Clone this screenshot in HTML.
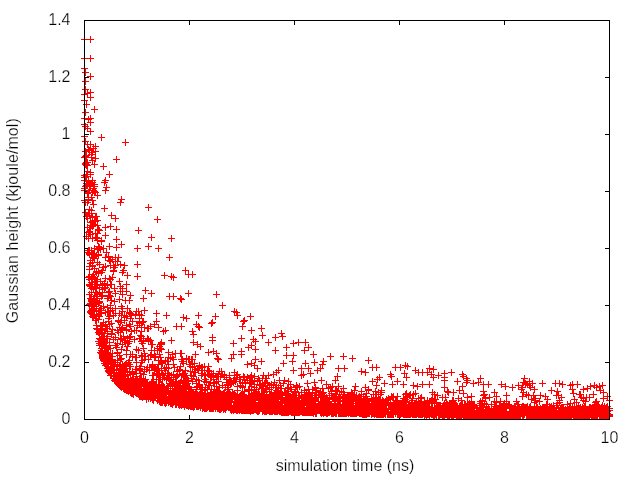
<!DOCTYPE html>
<html><head><meta charset="utf-8"><style>
html,body{margin:0;padding:0;background:#fff;width:640px;height:480px;overflow:hidden}
svg{display:block}
text{font-family:"Liberation Sans",sans-serif;font-size:16px;fill:#000;stroke:#fff;stroke-width:0.25px}
svg{will-change:transform}
</style></head><body>
<svg width="640" height="480" viewBox="0 0 640 480">
<rect width="640" height="480" fill="#fff"/>
<path d="M85 419.5h4M605 419.5h4M85 362.5h4M605 362.5h4M85 305.5h4M605 305.5h4M85 248.5h4M605 248.5h4M85 191.5h4M605 191.5h4M85 134.5h4M605 134.5h4M85 77.5h4M605 77.5h4M85 20.5h4M605 20.5h4M84.5 21v4M84.5 415v4M189.5 21v4M189.5 415v4M294.5 21v4M294.5 415v4M399.5 21v4M399.5 415v4M504.5 21v4M504.5 415v4M609.5 21v4M609.5 415v4" fill="none" stroke="#000" stroke-width="1" shape-rendering="crispEdges"/>
<path d="M81 39.5h7M84.5 36v7M81 58.5h7M84.5 55v7M81 68.5h7M84.5 65v7M81 94.5h7M84.5 91v7M81 100.5h7M84.5 97v7M81 118.5h7M84.5 115v7M81 124.5h7M84.5 121v7M81 136.5h7M84.5 133v7M81 157.5h7M84.5 154v7M81 175.5h7M84.5 172v7M81 177.5h7M84.5 174v7M81 180.5h7M84.5 177v7M81 188.5h7M84.5 185v7M81 190.5h7M84.5 187v7M81 200.5h7M84.5 197v7M82 72.5h7M85.5 69v7M82 81.5h7M85.5 78v7M82 89.5h7M85.5 86v7M82 112.5h7M85.5 109v7M82 126.5h7M85.5 123v7M82 141.5h7M85.5 138v7M82 151.5h7M85.5 148v7M82 156.5h7M85.5 153v7M82 157.5h7M85.5 154v7M82 163.5h7M85.5 160v7M82 164.5h7M85.5 161v7M82 177.5h7M85.5 174v7M82 186.5h7M85.5 183v7M82 202.5h7M85.5 199v7M82 212.5h7M85.5 209v7M83 104.5h7M86.5 101v7M83 155.5h7M86.5 152v7M83 162.5h7M86.5 159v7M83 164.5h7M86.5 161v7M83 165.5h7M86.5 162v7M83 174.5h7M86.5 171v7M83 176.5h7M86.5 173v7M83 183.5h7M86.5 180v7M83 185.5h7M86.5 182v7M83 216.5h7M86.5 213v7M83 236.5h7M86.5 233v7M84 93.5h7M87.5 90v7M84 128.5h7M87.5 125v7M84 144.5h7M87.5 141v7M84 162.5h7M87.5 159v7M84 165.5h7M87.5 162v7M84 171.5h7M87.5 168v7M84 184.5h7M87.5 181v7M84 193.5h7M87.5 190v7M84 202.5h7M87.5 199v7M84 216.5h7M87.5 213v7M84 218.5h7M87.5 215v7M84 227.5h7M87.5 224v7M84 252.5h7M87.5 249v7M85 119.5h7M88.5 116v7M85 149.5h7M88.5 146v7M85 181.5h7M88.5 178v7M85 192.5h7M88.5 189v7M85 197.5h7M88.5 194v7M85 199.5h7M88.5 196v7M85 200.5h7M88.5 197v7M85 213.5h7M88.5 210v7M85 232.5h7M88.5 229v7M85 238.5h7M88.5 235v7M85 250.5h7M88.5 247v7M85 252.5h7M88.5 249v7M85 277.5h7M88.5 274v7M86 150.5h7M89.5 147v7M86 190.5h7M89.5 187v7M86 209.5h7M89.5 206v7M86 215.5h7M89.5 212v7M86 231.5h7M89.5 228v7M86 232.5h7M89.5 229v7M86 250.5h7M89.5 247v7M86 253.5h7M89.5 250v7M86 254.5h7M89.5 251v7M86 266.5h7M89.5 263v7M86 269.5h7M89.5 266v7M86 276.5h7M89.5 273v7M86 279.5h7M89.5 276v7M86 284.5h7M89.5 281v7M86 285.5h7M89.5 282v7M86 294.5h7M89.5 291v7M86 304.5h7M89.5 301v7M87 39.5h7M90.5 36v7M87 58.5h7M90.5 55v7M87 76.5h7M90.5 73v7M87 92.5h7M90.5 89v7M87 97.5h7M90.5 94v7M87 118.5h7M90.5 115v7M87 122.5h7M90.5 119v7M87 131.5h7M90.5 128v7M87 144.5h7M90.5 141v7M87 172.5h7M90.5 169v7M87 174.5h7M90.5 171v7M87 183.5h7M90.5 180v7M87 185.5h7M90.5 182v7M87 186.5h7M90.5 183v7M87 222.5h7M90.5 219v7M87 227.5h7M90.5 224v7M87 234.5h7M90.5 231v7M87 260.5h7M90.5 257v7M87 263.5h7M90.5 260v7M87 286.5h7M90.5 283v7M87 298.5h7M90.5 295v7M87 303.5h7M90.5 300v7M87 311.5h7M90.5 308v7M87 312.5h7M90.5 309v7M88 154.5h7M91.5 151v7M88 157.5h7M91.5 154v7M88 197.5h7M91.5 194v7M88 210.5h7M91.5 207v7M88 213.5h7M91.5 210v7M88 225.5h7M91.5 222v7M88 250.5h7M91.5 247v7M88 252.5h7M91.5 249v7M88 254.5h7M91.5 251v7M88 278.5h7M91.5 275v7M88 282.5h7M91.5 279v7M88 284.5h7M91.5 281v7M88 288.5h7M91.5 285v7M88 292.5h7M91.5 289v7M88 299.5h7M91.5 296v7M88 300.5h7M91.5 297v7M88 301.5h7M91.5 298v7M88 306.5h7M91.5 303v7M88 310.5h7M91.5 307v7M88 313.5h7M91.5 310v7M89 152.5h7M92.5 149v7M89 160.5h7M92.5 157v7M89 180.5h7M92.5 177v7M89 182.5h7M92.5 179v7M89 192.5h7M92.5 189v7M89 200.5h7M92.5 197v7M89 217.5h7M92.5 214v7M89 221.5h7M92.5 218v7M89 222.5h7M92.5 219v7M89 226.5h7M92.5 223v7M89 238.5h7M92.5 235v7M89 253.5h7M92.5 250v7M89 262.5h7M92.5 259v7M89 265.5h7M92.5 262v7M89 266.5h7M92.5 263v7M89 276.5h7M92.5 273v7M89 277.5h7M92.5 274v7M89 284.5h7M92.5 281v7M89 303.5h7M92.5 300v7M89 305.5h7M92.5 302v7M89 308.5h7M92.5 305v7M89 309.5h7M92.5 306v7M89 311.5h7M92.5 308v7M89 314.5h7M92.5 311v7M89 316.5h7M92.5 313v7M90 148.5h7M93.5 145v7M90 188.5h7M93.5 185v7M90 190.5h7M93.5 187v7M90 204.5h7M93.5 201v7M90 224.5h7M93.5 221v7M90 225.5h7M93.5 222v7M90 253.5h7M93.5 250v7M90 257.5h7M93.5 254v7M90 274.5h7M93.5 271v7M90 289.5h7M93.5 286v7M90 298.5h7M93.5 295v7M90 302.5h7M93.5 299v7M90 306.5h7M93.5 303v7M90 315.5h7M93.5 312v7M90 317.5h7M93.5 314v7M91 109.5h7M94.5 106v7M91 164.5h7M94.5 161v7M91 184.5h7M94.5 181v7M91 186.5h7M94.5 183v7M91 191.5h7M94.5 188v7M91 220.5h7M94.5 217v7M91 248.5h7M94.5 245v7M91 256.5h7M94.5 253v7M91 258.5h7M94.5 255v7M91 268.5h7M94.5 265v7M91 277.5h7M94.5 274v7M91 279.5h7M94.5 276v7M91 284.5h7M94.5 281v7M91 296.5h7M94.5 293v7M91 299.5h7M94.5 296v7M91 306.5h7M94.5 303v7M91 308.5h7M94.5 305v7M91 311.5h7M94.5 308v7M91 314.5h7M94.5 311v7M92 146.5h7M95.5 143v7M92 151.5h7M95.5 148v7M92 158.5h7M95.5 155v7M92 192.5h7M95.5 189v7M92 216.5h7M95.5 213v7M92 221.5h7M95.5 218v7M92 233.5h7M95.5 230v7M92 237.5h7M95.5 234v7M92 281.5h7M95.5 278v7M92 284.5h7M95.5 281v7M92 292.5h7M95.5 289v7M92 301.5h7M95.5 298v7M92 320.5h7M95.5 317v7M93 216.5h7M96.5 213v7M93 237.5h7M96.5 234v7M93 255.5h7M96.5 252v7M93 272.5h7M96.5 269v7M93 281.5h7M96.5 278v7M93 288.5h7M96.5 285v7M93 298.5h7M96.5 295v7M93 302.5h7M96.5 299v7M93 310.5h7M96.5 307v7M93 315.5h7M96.5 312v7M93 318.5h7M96.5 315v7M93 325.5h7M96.5 322v7M93 328.5h7M96.5 325v7M94 195.5h7M97.5 192v7M94 220.5h7M97.5 217v7M94 225.5h7M97.5 222v7M94 233.5h7M97.5 230v7M94 238.5h7M97.5 235v7M94 240.5h7M97.5 237v7M94 249.5h7M97.5 246v7M94 262.5h7M97.5 259v7M94 279.5h7M97.5 276v7M94 285.5h7M97.5 282v7M94 294.5h7M97.5 291v7M94 296.5h7M97.5 293v7M94 298.5h7M97.5 295v7M94 301.5h7M97.5 298v7M94 329.5h7M97.5 326v7M95 229.5h7M98.5 226v7M95 246.5h7M98.5 243v7M95 248.5h7M98.5 245v7M95 254.5h7M98.5 251v7M95 255.5h7M98.5 252v7M95 271.5h7M98.5 268v7M95 273.5h7M98.5 270v7M95 303.5h7M98.5 300v7M95 311.5h7M98.5 308v7M95 319.5h7M98.5 316v7M95 332.5h7M98.5 329v7M95 341.5h7M98.5 338v7M96 230.5h7M99.5 227v7M96 247.5h7M99.5 244v7M96 264.5h7M99.5 261v7M96 287.5h7M99.5 284v7M96 293.5h7M99.5 290v7M96 301.5h7M99.5 298v7M96 302.5h7M99.5 299v7M96 310.5h7M99.5 307v7M96 313.5h7M99.5 310v7M96 316.5h7M99.5 313v7M96 332.5h7M99.5 329v7M96 333.5h7M99.5 330v7M96 334.5h7M99.5 331v7M96 338.5h7M99.5 335v7M96 343.5h7M99.5 340v7M96 345.5h7M99.5 342v7M97 249.5h7M100.5 246v7M97 281.5h7M100.5 278v7M97 308.5h7M100.5 305v7M97 313.5h7M100.5 310v7M97 326.5h7M100.5 323v7M97 328.5h7M100.5 325v7M97 339.5h7M100.5 336v7M97 343.5h7M100.5 340v7M97 352.5h7M100.5 349v7M98 137.5h7M101.5 134v7M98 240.5h7M101.5 237v7M98 241.5h7M101.5 238v7M98 272.5h7M101.5 269v7M98 296.5h7M101.5 293v7M98 308.5h7M101.5 305v7M98 310.5h7M101.5 307v7M98 313.5h7M101.5 310v7M98 325.5h7M101.5 322v7M98 329.5h7M101.5 326v7M98 333.5h7M101.5 330v7M98 338.5h7M101.5 335v7M98 345.5h7M101.5 342v7M98 348.5h7M101.5 345v7M98 350.5h7M101.5 347v7M98 353.5h7M101.5 350v7M99 270.5h7M102.5 267v7M99 284.5h7M102.5 281v7M99 285.5h7M102.5 282v7M99 289.5h7M102.5 286v7M99 292.5h7M102.5 289v7M99 295.5h7M102.5 292v7M99 326.5h7M102.5 323v7M99 330.5h7M102.5 327v7M99 332.5h7M102.5 329v7M99 339.5h7M102.5 336v7M99 340.5h7M102.5 337v7M99 341.5h7M102.5 338v7M99 350.5h7M102.5 347v7M99 351.5h7M102.5 348v7M99 352.5h7M102.5 349v7M99 353.5h7M102.5 350v7M99 354.5h7M102.5 351v7M99 355.5h7M102.5 352v7M99 356.5h7M102.5 353v7M99 357.5h7M102.5 354v7M99 358.5h7M102.5 355v7M100 166.5h7M103.5 163v7M100 248.5h7M103.5 245v7M100 267.5h7M103.5 264v7M100 306.5h7M103.5 303v7M100 322.5h7M103.5 319v7M100 336.5h7M103.5 333v7M100 338.5h7M103.5 335v7M100 340.5h7M103.5 337v7M100 341.5h7M103.5 338v7M100 357.5h7M103.5 354v7M100 359.5h7M103.5 356v7M100 360.5h7M103.5 357v7M101 182.5h7M104.5 179v7M101 208.5h7M104.5 205v7M101 283.5h7M104.5 280v7M101 287.5h7M104.5 284v7M101 288.5h7M104.5 285v7M101 336.5h7M104.5 333v7M101 342.5h7M104.5 339v7M101 343.5h7M104.5 340v7M101 345.5h7M104.5 342v7M101 348.5h7M104.5 345v7M101 355.5h7M104.5 352v7M101 356.5h7M104.5 353v7M101 361.5h7M104.5 358v7M101 363.5h7M104.5 360v7M102 180.5h7M105.5 177v7M102 190.5h7M105.5 187v7M102 227.5h7M105.5 224v7M102 235.5h7M105.5 232v7M102 257.5h7M105.5 254v7M102 266.5h7M105.5 263v7M102 278.5h7M105.5 275v7M102 287.5h7M105.5 284v7M102 312.5h7M105.5 309v7M102 324.5h7M105.5 321v7M102 326.5h7M105.5 323v7M102 342.5h7M105.5 339v7M102 346.5h7M105.5 343v7M102 350.5h7M105.5 347v7M102 356.5h7M105.5 353v7M102 361.5h7M105.5 358v7M102 365.5h7M105.5 362v7M103 187.5h7M106.5 184v7M103 252.5h7M106.5 249v7M103 328.5h7M106.5 325v7M103 338.5h7M106.5 335v7M103 347.5h7M106.5 344v7M103 348.5h7M106.5 345v7M103 352.5h7M106.5 349v7M103 355.5h7M106.5 352v7M103 356.5h7M106.5 353v7M103 359.5h7M106.5 356v7M103 362.5h7M106.5 359v7M103 364.5h7M106.5 361v7M104 284.5h7M107.5 281v7M104 285.5h7M107.5 282v7M104 298.5h7M107.5 295v7M104 307.5h7M107.5 304v7M104 312.5h7M107.5 309v7M104 328.5h7M107.5 325v7M104 331.5h7M107.5 328v7M104 333.5h7M107.5 330v7M104 336.5h7M107.5 333v7M104 338.5h7M107.5 335v7M104 348.5h7M107.5 345v7M104 349.5h7M107.5 346v7M104 352.5h7M107.5 349v7M104 359.5h7M107.5 356v7M104 361.5h7M107.5 358v7M104 363.5h7M107.5 360v7M104 364.5h7M107.5 361v7M104 368.5h7M107.5 365v7M105 256.5h7M108.5 253v7M105 257.5h7M108.5 254v7M105 292.5h7M108.5 289v7M105 296.5h7M108.5 293v7M105 311.5h7M108.5 308v7M105 318.5h7M108.5 315v7M105 321.5h7M108.5 318v7M105 354.5h7M108.5 351v7M105 361.5h7M108.5 358v7M105 364.5h7M108.5 361v7M105 366.5h7M108.5 363v7M105 370.5h7M108.5 367v7M105 371.5h7M108.5 368v7M106 174.5h7M109.5 171v7M106 246.5h7M109.5 243v7M106 260.5h7M109.5 257v7M106 278.5h7M109.5 275v7M106 291.5h7M109.5 288v7M106 295.5h7M109.5 292v7M106 316.5h7M109.5 313v7M106 324.5h7M109.5 321v7M106 342.5h7M109.5 339v7M106 345.5h7M109.5 342v7M106 355.5h7M109.5 352v7M106 358.5h7M109.5 355v7M106 360.5h7M109.5 357v7M106 369.5h7M109.5 366v7M106 371.5h7M109.5 368v7M106 372.5h7M109.5 369v7M107 226.5h7M110.5 223v7M107 261.5h7M110.5 258v7M107 265.5h7M110.5 262v7M107 279.5h7M110.5 276v7M107 284.5h7M110.5 281v7M107 296.5h7M110.5 293v7M107 305.5h7M110.5 302v7M107 308.5h7M110.5 305v7M107 311.5h7M110.5 308v7M107 348.5h7M110.5 345v7M107 353.5h7M110.5 350v7M107 359.5h7M110.5 356v7M107 360.5h7M110.5 357v7M107 364.5h7M110.5 361v7M107 368.5h7M110.5 365v7M107 373.5h7M110.5 370v7M107 375.5h7M110.5 372v7M108 215.5h7M111.5 212v7M108 284.5h7M111.5 281v7M108 300.5h7M111.5 297v7M108 323.5h7M111.5 320v7M108 333.5h7M111.5 330v7M108 334.5h7M111.5 331v7M108 356.5h7M111.5 353v7M108 360.5h7M111.5 357v7M108 362.5h7M111.5 359v7M108 366.5h7M111.5 363v7M108 367.5h7M111.5 364v7M108 370.5h7M111.5 367v7M108 375.5h7M111.5 372v7M109 259.5h7M112.5 256v7M109 277.5h7M112.5 274v7M109 310.5h7M112.5 307v7M109 329.5h7M112.5 326v7M109 353.5h7M112.5 350v7M109 356.5h7M112.5 353v7M109 359.5h7M112.5 356v7M109 361.5h7M112.5 358v7M109 362.5h7M112.5 359v7M109 369.5h7M112.5 366v7M109 370.5h7M112.5 367v7M110 265.5h7M113.5 262v7M110 267.5h7M113.5 264v7M110 270.5h7M113.5 267v7M110 271.5h7M113.5 268v7M110 315.5h7M113.5 312v7M110 339.5h7M113.5 336v7M110 362.5h7M113.5 359v7M110 372.5h7M113.5 369v7M110 376.5h7M113.5 373v7M111 267.5h7M114.5 264v7M111 288.5h7M114.5 285v7M111 301.5h7M114.5 298v7M111 365.5h7M114.5 362v7M111 366.5h7M114.5 363v7M111 370.5h7M114.5 367v7M111 380.5h7M114.5 377v7M112 218.5h7M115.5 215v7M112 257.5h7M115.5 254v7M112 265.5h7M115.5 262v7M112 293.5h7M115.5 290v7M112 308.5h7M115.5 305v7M112 313.5h7M115.5 310v7M112 337.5h7M115.5 334v7M112 345.5h7M115.5 342v7M112 362.5h7M115.5 359v7M112 376.5h7M115.5 373v7M112 378.5h7M115.5 375v7M112 379.5h7M115.5 376v7M112 380.5h7M115.5 377v7M112 381.5h7M115.5 378v7M113 159.5h7M116.5 156v7M113 229.5h7M116.5 226v7M113 239.5h7M116.5 236v7M113 247.5h7M116.5 244v7M113 347.5h7M116.5 344v7M113 370.5h7M116.5 367v7M113 372.5h7M116.5 369v7M113 374.5h7M116.5 371v7M113 375.5h7M116.5 372v7M113 377.5h7M116.5 374v7M113 379.5h7M116.5 376v7M113 381.5h7M116.5 378v7M114 261.5h7M117.5 258v7M114 330.5h7M117.5 327v7M114 343.5h7M117.5 340v7M114 352.5h7M117.5 349v7M114 353.5h7M117.5 350v7M114 360.5h7M117.5 357v7M114 364.5h7M117.5 361v7M114 366.5h7M117.5 363v7M114 375.5h7M117.5 372v7M114 382.5h7M117.5 379v7M114 383.5h7M117.5 380v7M115 257.5h7M118.5 254v7M115 320.5h7M118.5 317v7M115 321.5h7M118.5 318v7M115 332.5h7M118.5 329v7M115 372.5h7M118.5 369v7M115 377.5h7M118.5 374v7M115 379.5h7M118.5 376v7M115 380.5h7M118.5 377v7M116 281.5h7M119.5 278v7M116 299.5h7M119.5 296v7M116 313.5h7M119.5 310v7M116 327.5h7M119.5 324v7M116 355.5h7M119.5 352v7M116 365.5h7M119.5 362v7M116 368.5h7M119.5 365v7M116 373.5h7M119.5 370v7M116 375.5h7M119.5 372v7M116 376.5h7M119.5 373v7M116 377.5h7M119.5 374v7M116 384.5h7M119.5 381v7M116 385.5h7M119.5 382v7M117 202.5h7M120.5 199v7M117 264.5h7M120.5 261v7M117 286.5h7M120.5 283v7M117 291.5h7M120.5 288v7M117 322.5h7M120.5 319v7M117 332.5h7M120.5 329v7M117 339.5h7M120.5 336v7M117 359.5h7M120.5 356v7M117 365.5h7M120.5 362v7M117 370.5h7M120.5 367v7M117 376.5h7M120.5 373v7M117 382.5h7M120.5 379v7M117 384.5h7M120.5 381v7M117 386.5h7M120.5 383v7M118 199.5h7M121.5 196v7M118 244.5h7M121.5 241v7M118 306.5h7M121.5 303v7M118 315.5h7M121.5 312v7M118 320.5h7M121.5 317v7M118 329.5h7M121.5 326v7M118 338.5h7M121.5 335v7M118 349.5h7M121.5 346v7M118 358.5h7M121.5 355v7M118 369.5h7M121.5 366v7M118 371.5h7M121.5 368v7M118 374.5h7M121.5 371v7M118 376.5h7M121.5 373v7M118 377.5h7M121.5 374v7M118 378.5h7M121.5 375v7M118 380.5h7M121.5 377v7M118 386.5h7M121.5 383v7M118 387.5h7M121.5 384v7M119 272.5h7M122.5 269v7M119 288.5h7M122.5 285v7M119 294.5h7M122.5 291v7M119 308.5h7M122.5 305v7M119 311.5h7M122.5 308v7M119 327.5h7M122.5 324v7M119 328.5h7M122.5 325v7M119 344.5h7M122.5 341v7M119 364.5h7M122.5 361v7M119 376.5h7M122.5 373v7M119 383.5h7M122.5 380v7M119 384.5h7M122.5 381v7M120 270.5h7M123.5 267v7M120 336.5h7M123.5 333v7M120 369.5h7M123.5 366v7M120 374.5h7M123.5 371v7M120 382.5h7M123.5 379v7M120 386.5h7M123.5 383v7M120 388.5h7M123.5 385v7M121 265.5h7M124.5 262v7M121 315.5h7M124.5 312v7M121 317.5h7M124.5 314v7M121 320.5h7M124.5 317v7M121 340.5h7M124.5 337v7M121 365.5h7M124.5 362v7M121 372.5h7M124.5 369v7M121 374.5h7M124.5 371v7M121 375.5h7M124.5 372v7M121 379.5h7M124.5 376v7M121 380.5h7M124.5 377v7M121 385.5h7M124.5 382v7M121 387.5h7M124.5 384v7M121 389.5h7M124.5 386v7M122 142.5h7M125.5 139v7M122 300.5h7M125.5 297v7M122 340.5h7M125.5 337v7M122 342.5h7M125.5 339v7M122 364.5h7M125.5 361v7M122 372.5h7M125.5 369v7M122 376.5h7M125.5 373v7M122 380.5h7M125.5 377v7M122 384.5h7M125.5 381v7M122 387.5h7M125.5 384v7M122 388.5h7M125.5 385v7M122 389.5h7M125.5 386v7M123 284.5h7M126.5 281v7M123 291.5h7M126.5 288v7M123 316.5h7M126.5 313v7M123 325.5h7M126.5 322v7M123 329.5h7M126.5 326v7M123 330.5h7M126.5 327v7M123 350.5h7M126.5 347v7M123 354.5h7M126.5 351v7M123 363.5h7M126.5 360v7M123 366.5h7M126.5 363v7M123 368.5h7M126.5 365v7M123 381.5h7M126.5 378v7M123 383.5h7M126.5 380v7M123 384.5h7M126.5 381v7M123 390.5h7M126.5 387v7M124 275.5h7M127.5 272v7M124 308.5h7M127.5 305v7M124 338.5h7M127.5 335v7M124 346.5h7M127.5 343v7M124 371.5h7M127.5 368v7M124 375.5h7M127.5 372v7M124 378.5h7M127.5 375v7M124 381.5h7M127.5 378v7M124 383.5h7M127.5 380v7M124 385.5h7M127.5 382v7M124 389.5h7M127.5 386v7M124 390.5h7M127.5 387v7M125 343.5h7M128.5 340v7M125 362.5h7M128.5 359v7M125 379.5h7M128.5 376v7M125 380.5h7M128.5 377v7M125 381.5h7M128.5 378v7M125 387.5h7M128.5 384v7M125 391.5h7M128.5 388v7M126 300.5h7M129.5 297v7M126 312.5h7M129.5 309v7M126 324.5h7M129.5 321v7M126 337.5h7M129.5 334v7M126 341.5h7M129.5 338v7M126 360.5h7M129.5 357v7M126 364.5h7M129.5 361v7M126 372.5h7M129.5 369v7M126 381.5h7M129.5 378v7M126 383.5h7M129.5 380v7M126 386.5h7M129.5 383v7M126 387.5h7M129.5 384v7M126 388.5h7M129.5 385v7M126 389.5h7M129.5 386v7M126 390.5h7M129.5 387v7M127 295.5h7M130.5 292v7M127 313.5h7M130.5 310v7M127 318.5h7M130.5 315v7M127 326.5h7M130.5 323v7M127 336.5h7M130.5 333v7M127 354.5h7M130.5 351v7M127 366.5h7M130.5 363v7M127 374.5h7M130.5 371v7M127 378.5h7M130.5 375v7M127 379.5h7M130.5 376v7M127 382.5h7M130.5 379v7M127 383.5h7M130.5 380v7M127 387.5h7M130.5 384v7M127 388.5h7M130.5 385v7M127 390.5h7M130.5 387v7M127 391.5h7M130.5 388v7M127 392.5h7M130.5 389v7M128 314.5h7M131.5 311v7M128 331.5h7M131.5 328v7M128 380.5h7M131.5 377v7M128 385.5h7M131.5 382v7M128 386.5h7M131.5 383v7M128 393.5h7M131.5 390v7M129 321.5h7M132.5 318v7M129 354.5h7M132.5 351v7M129 356.5h7M132.5 353v7M129 371.5h7M132.5 368v7M129 372.5h7M132.5 369v7M129 373.5h7M132.5 370v7M129 374.5h7M132.5 371v7M129 379.5h7M132.5 376v7M129 380.5h7M132.5 377v7M129 385.5h7M132.5 382v7M129 386.5h7M132.5 383v7M129 389.5h7M132.5 386v7M129 390.5h7M132.5 387v7M129 393.5h7M132.5 390v7M130 378.5h7M133.5 375v7M130 379.5h7M133.5 376v7M130 380.5h7M133.5 377v7M130 382.5h7M133.5 379v7M130 383.5h7M133.5 380v7M130 385.5h7M133.5 382v7M130 387.5h7M133.5 384v7M130 392.5h7M133.5 389v7M130 394.5h7M133.5 391v7M131 330.5h7M134.5 327v7M131 339.5h7M134.5 336v7M131 381.5h7M134.5 378v7M131 383.5h7M134.5 380v7M131 384.5h7M134.5 381v7M131 387.5h7M134.5 384v7M131 390.5h7M134.5 387v7M131 391.5h7M134.5 388v7M132 315.5h7M135.5 312v7M132 357.5h7M135.5 354v7M132 369.5h7M135.5 366v7M132 379.5h7M135.5 376v7M132 381.5h7M135.5 378v7M132 384.5h7M135.5 381v7M132 387.5h7M135.5 384v7M132 391.5h7M135.5 388v7M132 392.5h7M135.5 389v7M133 311.5h7M136.5 308v7M133 330.5h7M136.5 327v7M133 349.5h7M136.5 346v7M133 357.5h7M136.5 354v7M133 362.5h7M136.5 359v7M133 369.5h7M136.5 366v7M133 376.5h7M136.5 373v7M133 378.5h7M136.5 375v7M133 385.5h7M136.5 382v7M133 389.5h7M136.5 386v7M133 392.5h7M136.5 389v7M133 393.5h7M136.5 390v7M134 248.5h7M137.5 245v7M134 264.5h7M137.5 261v7M134 276.5h7M137.5 273v7M134 325.5h7M137.5 322v7M134 379.5h7M137.5 376v7M134 380.5h7M137.5 377v7M134 383.5h7M137.5 380v7M134 384.5h7M137.5 381v7M135 230.5h7M138.5 227v7M135 311.5h7M138.5 308v7M135 350.5h7M138.5 347v7M135 384.5h7M138.5 381v7M135 386.5h7M138.5 383v7M135 388.5h7M138.5 385v7M135 392.5h7M138.5 389v7M135 394.5h7M138.5 391v7M136 314.5h7M139.5 311v7M136 318.5h7M139.5 315v7M136 321.5h7M139.5 318v7M136 322.5h7M139.5 319v7M136 323.5h7M139.5 320v7M136 338.5h7M139.5 335v7M136 368.5h7M139.5 365v7M136 370.5h7M139.5 367v7M136 378.5h7M139.5 375v7M136 385.5h7M139.5 382v7M136 391.5h7M139.5 388v7M136 392.5h7M139.5 389v7M136 393.5h7M139.5 390v7M136 395.5h7M139.5 392v7M136 396.5h7M139.5 393v7M137 335.5h7M140.5 332v7M137 338.5h7M140.5 335v7M137 366.5h7M140.5 363v7M137 373.5h7M140.5 370v7M137 379.5h7M140.5 376v7M137 381.5h7M140.5 378v7M137 385.5h7M140.5 382v7M137 389.5h7M140.5 386v7M137 393.5h7M140.5 390v7M137 394.5h7M140.5 391v7M137 395.5h7M140.5 392v7M137 396.5h7M140.5 393v7M138 315.5h7M141.5 312v7M138 327.5h7M141.5 324v7M138 331.5h7M141.5 328v7M138 336.5h7M141.5 333v7M138 341.5h7M141.5 338v7M138 355.5h7M141.5 352v7M138 362.5h7M141.5 359v7M138 378.5h7M141.5 375v7M138 382.5h7M141.5 379v7M138 383.5h7M141.5 380v7M138 388.5h7M141.5 385v7M138 392.5h7M141.5 389v7M138 393.5h7M141.5 390v7M138 394.5h7M141.5 391v7M138 396.5h7M141.5 393v7M139 322.5h7M142.5 319v7M139 343.5h7M142.5 340v7M139 356.5h7M142.5 353v7M139 360.5h7M142.5 357v7M139 381.5h7M142.5 378v7M139 391.5h7M142.5 388v7M139 394.5h7M142.5 391v7M139 395.5h7M142.5 392v7M139 397.5h7M142.5 394v7M140 298.5h7M143.5 295v7M140 321.5h7M143.5 318v7M140 340.5h7M143.5 337v7M140 348.5h7M143.5 345v7M140 374.5h7M143.5 371v7M140 381.5h7M143.5 378v7M140 384.5h7M143.5 381v7M140 385.5h7M143.5 382v7M140 386.5h7M143.5 383v7M140 390.5h7M143.5 387v7M140 393.5h7M143.5 390v7M141 310.5h7M144.5 307v7M141 327.5h7M144.5 324v7M141 353.5h7M144.5 350v7M141 359.5h7M144.5 356v7M141 369.5h7M144.5 366v7M141 371.5h7M144.5 368v7M141 382.5h7M144.5 379v7M141 384.5h7M144.5 381v7M141 385.5h7M144.5 382v7M141 389.5h7M144.5 386v7M141 391.5h7M144.5 388v7M141 392.5h7M144.5 389v7M141 394.5h7M144.5 391v7M141 396.5h7M144.5 393v7M142 290.5h7M145.5 287v7M142 356.5h7M145.5 353v7M142 379.5h7M145.5 376v7M142 382.5h7M145.5 379v7M142 386.5h7M145.5 383v7M142 388.5h7M145.5 385v7M142 392.5h7M145.5 389v7M142 393.5h7M145.5 390v7M142 396.5h7M145.5 393v7M143 369.5h7M146.5 366v7M143 383.5h7M146.5 380v7M143 384.5h7M146.5 381v7M143 385.5h7M146.5 382v7M143 391.5h7M146.5 388v7M143 393.5h7M146.5 390v7M143 394.5h7M146.5 391v7M143 398.5h7M146.5 395v7M143 399.5h7M146.5 396v7M144 328.5h7M147.5 325v7M144 338.5h7M147.5 335v7M144 367.5h7M147.5 364v7M144 382.5h7M147.5 379v7M144 384.5h7M147.5 381v7M144 386.5h7M147.5 383v7M144 387.5h7M147.5 384v7M144 389.5h7M147.5 386v7M144 391.5h7M147.5 388v7M144 396.5h7M147.5 393v7M145 207.5h7M148.5 204v7M145 246.5h7M148.5 243v7M145 328.5h7M148.5 325v7M145 339.5h7M148.5 336v7M145 341.5h7M148.5 338v7M145 359.5h7M148.5 356v7M145 385.5h7M148.5 382v7M145 386.5h7M148.5 383v7M145 387.5h7M148.5 384v7M145 390.5h7M148.5 387v7M145 391.5h7M148.5 388v7M145 396.5h7M148.5 393v7M145 398.5h7M148.5 395v7M146 370.5h7M149.5 367v7M146 386.5h7M149.5 383v7M146 387.5h7M149.5 384v7M146 394.5h7M149.5 391v7M146 395.5h7M149.5 392v7M146 396.5h7M149.5 393v7M147 326.5h7M150.5 323v7M147 340.5h7M150.5 337v7M147 355.5h7M150.5 352v7M147 386.5h7M150.5 383v7M147 389.5h7M150.5 386v7M147 393.5h7M150.5 390v7M147 396.5h7M150.5 393v7M147 397.5h7M150.5 394v7M147 398.5h7M150.5 395v7M148 237.5h7M151.5 234v7M148 293.5h7M151.5 290v7M148 344.5h7M151.5 341v7M148 350.5h7M151.5 347v7M148 354.5h7M151.5 351v7M148 367.5h7M151.5 364v7M148 382.5h7M151.5 379v7M148 386.5h7M151.5 383v7M148 388.5h7M151.5 385v7M148 391.5h7M151.5 388v7M148 393.5h7M151.5 390v7M148 394.5h7M151.5 391v7M148 396.5h7M151.5 393v7M148 397.5h7M151.5 394v7M149 344.5h7M152.5 341v7M149 364.5h7M152.5 361v7M149 365.5h7M152.5 362v7M149 366.5h7M152.5 363v7M149 375.5h7M152.5 372v7M149 381.5h7M152.5 378v7M149 388.5h7M152.5 385v7M149 391.5h7M152.5 388v7M149 392.5h7M152.5 389v7M149 398.5h7M152.5 395v7M149 399.5h7M152.5 396v7M150 375.5h7M153.5 372v7M150 381.5h7M153.5 378v7M150 386.5h7M153.5 383v7M150 388.5h7M153.5 385v7M150 389.5h7M153.5 386v7M150 390.5h7M153.5 387v7M150 398.5h7M153.5 395v7M150 400.5h7M153.5 397v7M151 324.5h7M154.5 321v7M151 350.5h7M154.5 347v7M151 357.5h7M154.5 354v7M151 370.5h7M154.5 367v7M151 385.5h7M154.5 382v7M151 386.5h7M154.5 383v7M151 393.5h7M154.5 390v7M152 356.5h7M155.5 353v7M152 368.5h7M155.5 365v7M152 384.5h7M155.5 381v7M152 385.5h7M155.5 382v7M152 386.5h7M155.5 383v7M152 391.5h7M155.5 388v7M152 392.5h7M155.5 389v7M152 394.5h7M155.5 391v7M153 313.5h7M156.5 310v7M153 321.5h7M156.5 318v7M153 369.5h7M156.5 366v7M153 374.5h7M156.5 371v7M153 379.5h7M156.5 376v7M153 385.5h7M156.5 382v7M153 387.5h7M156.5 384v7M153 389.5h7M156.5 386v7M153 395.5h7M156.5 392v7M154 219.5h7M157.5 216v7M154 348.5h7M157.5 345v7M154 350.5h7M157.5 347v7M154 368.5h7M157.5 365v7M154 374.5h7M157.5 371v7M154 390.5h7M157.5 387v7M154 396.5h7M157.5 393v7M154 397.5h7M157.5 394v7M154 398.5h7M157.5 395v7M154 400.5h7M157.5 397v7M155 248.5h7M158.5 245v7M155 327.5h7M158.5 324v7M155 360.5h7M158.5 357v7M155 364.5h7M158.5 361v7M155 373.5h7M158.5 370v7M155 379.5h7M158.5 376v7M155 384.5h7M158.5 381v7M155 385.5h7M158.5 382v7M155 389.5h7M158.5 386v7M155 394.5h7M158.5 391v7M155 395.5h7M158.5 392v7M155 396.5h7M158.5 393v7M156 346.5h7M159.5 343v7M156 354.5h7M159.5 351v7M156 373.5h7M159.5 370v7M156 377.5h7M159.5 374v7M156 384.5h7M159.5 381v7M156 386.5h7M159.5 383v7M156 387.5h7M159.5 384v7M156 388.5h7M159.5 385v7M156 391.5h7M159.5 388v7M156 393.5h7M159.5 390v7M156 395.5h7M159.5 392v7M156 396.5h7M159.5 393v7M156 400.5h7M159.5 397v7M156 401.5h7M159.5 398v7M157 344.5h7M160.5 341v7M157 348.5h7M160.5 345v7M157 357.5h7M160.5 354v7M157 377.5h7M160.5 374v7M157 379.5h7M160.5 376v7M157 390.5h7M160.5 387v7M157 392.5h7M160.5 389v7M157 398.5h7M160.5 395v7M157 399.5h7M160.5 396v7M157 401.5h7M160.5 398v7M157 402.5h7M160.5 399v7M158 342.5h7M161.5 339v7M158 343.5h7M161.5 340v7M158 344.5h7M161.5 341v7M158 349.5h7M161.5 346v7M158 361.5h7M161.5 358v7M158 362.5h7M161.5 359v7M158 368.5h7M161.5 365v7M158 370.5h7M161.5 367v7M158 384.5h7M161.5 381v7M158 385.5h7M161.5 382v7M158 388.5h7M161.5 385v7M158 389.5h7M161.5 386v7M158 391.5h7M161.5 388v7M158 393.5h7M161.5 390v7M158 396.5h7M161.5 393v7M158 397.5h7M161.5 394v7M158 402.5h7M161.5 399v7M159 363.5h7M162.5 360v7M159 374.5h7M162.5 371v7M159 379.5h7M162.5 376v7M159 386.5h7M162.5 383v7M159 388.5h7M162.5 385v7M159 389.5h7M162.5 386v7M159 393.5h7M162.5 390v7M159 395.5h7M162.5 392v7M159 397.5h7M162.5 394v7M159 401.5h7M162.5 398v7M159 402.5h7M162.5 399v7M160 331.5h7M163.5 328v7M160 375.5h7M163.5 372v7M160 386.5h7M163.5 383v7M160 387.5h7M163.5 384v7M160 391.5h7M163.5 388v7M160 394.5h7M163.5 391v7M160 395.5h7M163.5 392v7M160 396.5h7M163.5 393v7M160 397.5h7M163.5 394v7M160 398.5h7M163.5 395v7M160 400.5h7M163.5 397v7M161 275.5h7M164.5 272v7M161 368.5h7M164.5 365v7M161 377.5h7M164.5 374v7M161 387.5h7M164.5 384v7M161 393.5h7M164.5 390v7M161 402.5h7M164.5 399v7M162 330.5h7M165.5 327v7M162 360.5h7M165.5 357v7M162 370.5h7M165.5 367v7M162 389.5h7M165.5 386v7M162 391.5h7M165.5 388v7M162 393.5h7M165.5 390v7M162 397.5h7M165.5 394v7M162 401.5h7M165.5 398v7M162 403.5h7M165.5 400v7M163 315.5h7M166.5 312v7M163 367.5h7M166.5 364v7M163 379.5h7M166.5 376v7M163 388.5h7M166.5 385v7M163 391.5h7M166.5 388v7M163 393.5h7M166.5 390v7M163 396.5h7M166.5 393v7M163 398.5h7M166.5 395v7M163 399.5h7M166.5 396v7M163 400.5h7M166.5 397v7M163 401.5h7M166.5 398v7M163 402.5h7M166.5 399v7M164 361.5h7M167.5 358v7M164 373.5h7M167.5 370v7M164 388.5h7M167.5 385v7M164 391.5h7M167.5 388v7M165 352.5h7M168.5 349v7M165 357.5h7M168.5 354v7M165 364.5h7M168.5 361v7M165 368.5h7M168.5 365v7M165 373.5h7M168.5 370v7M165 377.5h7M168.5 374v7M165 378.5h7M168.5 375v7M165 388.5h7M168.5 385v7M165 391.5h7M168.5 388v7M165 394.5h7M168.5 391v7M165 396.5h7M168.5 393v7M165 400.5h7M168.5 397v7M165 401.5h7M168.5 398v7M165 402.5h7M168.5 399v7M166 257.5h7M169.5 254v7M166 296.5h7M169.5 293v7M166 375.5h7M169.5 372v7M166 380.5h7M169.5 377v7M166 383.5h7M169.5 380v7M166 393.5h7M169.5 390v7M166 396.5h7M169.5 393v7M166 397.5h7M169.5 394v7M167 358.5h7M170.5 355v7M167 384.5h7M170.5 381v7M167 388.5h7M170.5 385v7M167 390.5h7M170.5 387v7M167 391.5h7M170.5 388v7M167 397.5h7M170.5 394v7M167 398.5h7M170.5 395v7M167 399.5h7M170.5 396v7M167 400.5h7M170.5 397v7M167 403.5h7M170.5 400v7M168 238.5h7M171.5 235v7M168 276.5h7M171.5 273v7M168 340.5h7M171.5 337v7M168 375.5h7M171.5 372v7M168 381.5h7M171.5 378v7M168 393.5h7M171.5 390v7M168 396.5h7M171.5 393v7M168 397.5h7M171.5 394v7M168 399.5h7M171.5 396v7M168 400.5h7M171.5 397v7M168 401.5h7M171.5 398v7M168 403.5h7M171.5 400v7M169 354.5h7M172.5 351v7M169 357.5h7M172.5 354v7M169 385.5h7M172.5 382v7M169 386.5h7M172.5 383v7M169 390.5h7M172.5 387v7M169 391.5h7M172.5 388v7M169 399.5h7M172.5 396v7M169 403.5h7M172.5 400v7M169 404.5h7M172.5 401v7M170 277.5h7M173.5 274v7M170 296.5h7M173.5 293v7M170 359.5h7M173.5 356v7M170 364.5h7M173.5 361v7M170 374.5h7M173.5 371v7M170 379.5h7M173.5 376v7M170 381.5h7M173.5 378v7M170 391.5h7M173.5 388v7M170 394.5h7M173.5 391v7M170 396.5h7M173.5 393v7M170 402.5h7M173.5 399v7M171 367.5h7M174.5 364v7M171 384.5h7M174.5 381v7M171 390.5h7M174.5 387v7M171 391.5h7M174.5 388v7M171 394.5h7M174.5 391v7M171 395.5h7M174.5 392v7M171 398.5h7M174.5 395v7M171 400.5h7M174.5 397v7M171 401.5h7M174.5 398v7M172 353.5h7M175.5 350v7M172 377.5h7M175.5 374v7M172 383.5h7M175.5 380v7M172 384.5h7M175.5 381v7M172 391.5h7M175.5 388v7M172 395.5h7M175.5 392v7M172 397.5h7M175.5 394v7M172 400.5h7M175.5 397v7M172 404.5h7M175.5 401v7M173 326.5h7M176.5 323v7M173 376.5h7M176.5 373v7M173 381.5h7M176.5 378v7M173 385.5h7M176.5 382v7M173 388.5h7M176.5 385v7M173 389.5h7M176.5 386v7M173 390.5h7M176.5 387v7M173 395.5h7M176.5 392v7M173 396.5h7M176.5 393v7M173 404.5h7M176.5 401v7M174 371.5h7M177.5 368v7M174 374.5h7M177.5 371v7M174 375.5h7M177.5 372v7M174 393.5h7M177.5 390v7M174 395.5h7M177.5 392v7M174 398.5h7M177.5 395v7M174 399.5h7M177.5 396v7M174 400.5h7M177.5 397v7M174 402.5h7M177.5 399v7M175 387.5h7M178.5 384v7M175 390.5h7M178.5 387v7M175 391.5h7M178.5 388v7M175 396.5h7M178.5 393v7M175 398.5h7M178.5 395v7M175 401.5h7M178.5 398v7M175 404.5h7M178.5 401v7M176 369.5h7M179.5 366v7M176 370.5h7M179.5 367v7M176 385.5h7M179.5 382v7M176 386.5h7M179.5 383v7M176 391.5h7M179.5 388v7M176 392.5h7M179.5 389v7M176 395.5h7M179.5 392v7M176 404.5h7M179.5 401v7M176 405.5h7M179.5 402v7M177 298.5h7M180.5 295v7M177 353.5h7M180.5 350v7M177 366.5h7M180.5 363v7M177 382.5h7M180.5 379v7M177 383.5h7M180.5 380v7M177 385.5h7M180.5 382v7M177 389.5h7M180.5 386v7M177 393.5h7M180.5 390v7M177 397.5h7M180.5 394v7M177 398.5h7M180.5 395v7M177 400.5h7M180.5 397v7M177 402.5h7M180.5 399v7M177 403.5h7M180.5 400v7M177 404.5h7M180.5 401v7M178 299.5h7M181.5 296v7M178 326.5h7M181.5 323v7M178 353.5h7M181.5 350v7M178 359.5h7M181.5 356v7M178 380.5h7M181.5 377v7M178 391.5h7M181.5 388v7M178 395.5h7M181.5 392v7M178 398.5h7M181.5 395v7M178 399.5h7M181.5 396v7M178 404.5h7M181.5 401v7M178 405.5h7M181.5 402v7M179 359.5h7M182.5 356v7M179 361.5h7M182.5 358v7M179 374.5h7M182.5 371v7M179 383.5h7M182.5 380v7M179 389.5h7M182.5 386v7M179 390.5h7M182.5 387v7M179 391.5h7M182.5 388v7M179 396.5h7M182.5 393v7M179 401.5h7M182.5 398v7M179 404.5h7M182.5 401v7M180 317.5h7M183.5 314v7M180 363.5h7M183.5 360v7M180 373.5h7M183.5 370v7M180 374.5h7M183.5 371v7M180 375.5h7M183.5 372v7M180 381.5h7M183.5 378v7M180 388.5h7M183.5 385v7M180 394.5h7M183.5 391v7M180 395.5h7M183.5 392v7M180 397.5h7M183.5 394v7M180 399.5h7M183.5 396v7M180 402.5h7M183.5 399v7M180 404.5h7M183.5 401v7M181 373.5h7M184.5 370v7M181 376.5h7M184.5 373v7M181 385.5h7M184.5 382v7M181 393.5h7M184.5 390v7M181 395.5h7M184.5 392v7M181 396.5h7M184.5 393v7M181 402.5h7M184.5 399v7M181 403.5h7M184.5 400v7M181 405.5h7M184.5 402v7M181 406.5h7M184.5 403v7M182 270.5h7M185.5 267v7M182 370.5h7M185.5 367v7M182 375.5h7M185.5 372v7M182 381.5h7M185.5 378v7M182 385.5h7M185.5 382v7M182 391.5h7M185.5 388v7M182 394.5h7M185.5 391v7M182 395.5h7M185.5 392v7M182 404.5h7M185.5 401v7M183 318.5h7M186.5 315v7M183 358.5h7M186.5 355v7M183 359.5h7M186.5 356v7M183 378.5h7M186.5 375v7M183 380.5h7M186.5 377v7M183 384.5h7M186.5 381v7M183 386.5h7M186.5 383v7M183 389.5h7M186.5 386v7M183 392.5h7M186.5 389v7M183 396.5h7M186.5 393v7M183 402.5h7M186.5 399v7M183 405.5h7M186.5 402v7M184 378.5h7M187.5 375v7M184 383.5h7M187.5 380v7M184 386.5h7M187.5 383v7M184 395.5h7M187.5 392v7M184 397.5h7M187.5 394v7M184 399.5h7M187.5 396v7M184 401.5h7M187.5 398v7M184 405.5h7M187.5 402v7M185 274.5h7M188.5 271v7M185 293.5h7M188.5 290v7M185 359.5h7M188.5 356v7M185 380.5h7M188.5 377v7M185 389.5h7M188.5 386v7M185 391.5h7M188.5 388v7M185 392.5h7M188.5 389v7M185 395.5h7M188.5 392v7M185 396.5h7M188.5 393v7M185 400.5h7M188.5 397v7M185 401.5h7M188.5 398v7M185 404.5h7M188.5 401v7M185 406.5h7M188.5 403v7M186 359.5h7M189.5 356v7M186 364.5h7M189.5 361v7M186 387.5h7M189.5 384v7M186 397.5h7M189.5 394v7M186 400.5h7M189.5 397v7M186 401.5h7M189.5 398v7M186 403.5h7M189.5 400v7M186 405.5h7M189.5 402v7M187 364.5h7M190.5 361v7M187 366.5h7M190.5 363v7M187 371.5h7M190.5 368v7M187 389.5h7M190.5 386v7M187 391.5h7M190.5 388v7M187 393.5h7M190.5 390v7M187 396.5h7M190.5 393v7M187 397.5h7M190.5 394v7M187 399.5h7M190.5 396v7M187 400.5h7M190.5 397v7M187 402.5h7M190.5 399v7M187 403.5h7M190.5 400v7M187 406.5h7M190.5 403v7M188 359.5h7M191.5 356v7M188 375.5h7M191.5 372v7M188 378.5h7M191.5 375v7M188 389.5h7M191.5 386v7M188 391.5h7M191.5 388v7M188 392.5h7M191.5 389v7M188 398.5h7M191.5 395v7M188 400.5h7M191.5 397v7M188 402.5h7M191.5 399v7M188 405.5h7M191.5 402v7M188 406.5h7M191.5 403v7M189 274.5h7M192.5 271v7M189 331.5h7M192.5 328v7M189 359.5h7M192.5 356v7M189 367.5h7M192.5 364v7M189 381.5h7M192.5 378v7M189 392.5h7M192.5 389v7M189 396.5h7M192.5 393v7M189 400.5h7M192.5 397v7M189 402.5h7M192.5 399v7M189 406.5h7M192.5 403v7M190 334.5h7M193.5 331v7M190 342.5h7M193.5 339v7M190 376.5h7M193.5 373v7M190 393.5h7M193.5 390v7M190 394.5h7M193.5 391v7M190 400.5h7M193.5 397v7M190 404.5h7M193.5 401v7M190 405.5h7M193.5 402v7M190 407.5h7M193.5 404v7M191 363.5h7M194.5 360v7M191 372.5h7M194.5 369v7M191 399.5h7M194.5 396v7M191 403.5h7M194.5 400v7M191 406.5h7M194.5 403v7M192 354.5h7M195.5 351v7M192 369.5h7M195.5 366v7M192 372.5h7M195.5 369v7M192 392.5h7M195.5 389v7M192 395.5h7M195.5 392v7M192 396.5h7M195.5 393v7M192 397.5h7M195.5 394v7M192 399.5h7M195.5 396v7M192 400.5h7M195.5 397v7M192 402.5h7M195.5 399v7M193 324.5h7M196.5 321v7M193 379.5h7M196.5 376v7M193 383.5h7M196.5 380v7M193 387.5h7M196.5 384v7M193 393.5h7M196.5 390v7M193 395.5h7M196.5 392v7M193 397.5h7M196.5 394v7M193 402.5h7M196.5 399v7M193 403.5h7M196.5 400v7M193 405.5h7M196.5 402v7M193 406.5h7M196.5 403v7M194 344.5h7M197.5 341v7M194 368.5h7M197.5 365v7M194 386.5h7M197.5 383v7M194 394.5h7M197.5 391v7M194 397.5h7M197.5 394v7M194 401.5h7M197.5 398v7M194 403.5h7M197.5 400v7M194 404.5h7M197.5 401v7M194 406.5h7M197.5 403v7M195 315.5h7M198.5 312v7M195 326.5h7M198.5 323v7M195 370.5h7M198.5 367v7M195 380.5h7M198.5 377v7M195 400.5h7M198.5 397v7M195 401.5h7M198.5 398v7M195 406.5h7M198.5 403v7M196 327.5h7M199.5 324v7M196 365.5h7M199.5 362v7M196 366.5h7M199.5 363v7M196 384.5h7M199.5 381v7M196 385.5h7M199.5 382v7M196 394.5h7M199.5 391v7M196 396.5h7M199.5 393v7M196 402.5h7M199.5 399v7M197 346.5h7M200.5 343v7M197 389.5h7M200.5 386v7M197 393.5h7M200.5 390v7M197 397.5h7M200.5 394v7M197 400.5h7M200.5 397v7M197 402.5h7M200.5 399v7M197 403.5h7M200.5 400v7M197 405.5h7M200.5 402v7M197 407.5h7M200.5 404v7M198 367.5h7M201.5 364v7M198 370.5h7M201.5 367v7M198 375.5h7M201.5 372v7M198 387.5h7M201.5 384v7M198 389.5h7M201.5 386v7M198 395.5h7M201.5 392v7M198 397.5h7M201.5 394v7M198 404.5h7M201.5 401v7M199 367.5h7M202.5 364v7M199 373.5h7M202.5 370v7M199 389.5h7M202.5 386v7M199 394.5h7M202.5 391v7M199 401.5h7M202.5 398v7M199 402.5h7M202.5 399v7M199 406.5h7M202.5 403v7M199 408.5h7M202.5 405v7M200 395.5h7M203.5 392v7M200 397.5h7M203.5 394v7M200 403.5h7M203.5 400v7M200 404.5h7M203.5 401v7M200 407.5h7M203.5 404v7M201 366.5h7M204.5 363v7M201 370.5h7M204.5 367v7M201 374.5h7M204.5 371v7M201 381.5h7M204.5 378v7M201 390.5h7M204.5 387v7M201 394.5h7M204.5 391v7M201 395.5h7M204.5 392v7M201 396.5h7M204.5 393v7M201 399.5h7M204.5 396v7M201 401.5h7M204.5 398v7M201 402.5h7M204.5 399v7M201 403.5h7M204.5 400v7M201 404.5h7M204.5 401v7M201 405.5h7M204.5 402v7M201 406.5h7M204.5 403v7M201 407.5h7M204.5 404v7M201 408.5h7M204.5 405v7M202 375.5h7M205.5 372v7M202 379.5h7M205.5 376v7M202 387.5h7M205.5 384v7M202 393.5h7M205.5 390v7M202 396.5h7M205.5 393v7M202 398.5h7M205.5 395v7M202 399.5h7M205.5 396v7M202 403.5h7M205.5 400v7M202 405.5h7M205.5 402v7M202 408.5h7M205.5 405v7M203 381.5h7M206.5 378v7M203 382.5h7M206.5 379v7M203 397.5h7M206.5 394v7M203 398.5h7M206.5 395v7M203 401.5h7M206.5 398v7M203 405.5h7M206.5 402v7M203 406.5h7M206.5 403v7M203 407.5h7M206.5 404v7M203 408.5h7M206.5 405v7M204 370.5h7M207.5 367v7M204 389.5h7M207.5 386v7M204 394.5h7M207.5 391v7M204 396.5h7M207.5 393v7M204 399.5h7M207.5 396v7M204 401.5h7M207.5 398v7M204 405.5h7M207.5 402v7M204 406.5h7M207.5 403v7M204 407.5h7M207.5 404v7M205 352.5h7M208.5 349v7M205 366.5h7M208.5 363v7M205 370.5h7M208.5 367v7M205 385.5h7M208.5 382v7M205 395.5h7M208.5 392v7M205 396.5h7M208.5 393v7M205 402.5h7M208.5 399v7M205 404.5h7M208.5 401v7M205 405.5h7M208.5 402v7M205 406.5h7M208.5 403v7M206 371.5h7M209.5 368v7M206 374.5h7M209.5 371v7M206 385.5h7M209.5 382v7M206 399.5h7M209.5 396v7M206 400.5h7M209.5 397v7M206 401.5h7M209.5 398v7M206 402.5h7M209.5 399v7M206 403.5h7M209.5 400v7M206 406.5h7M209.5 403v7M206 408.5h7M209.5 405v7M207 376.5h7M210.5 373v7M207 382.5h7M210.5 379v7M207 393.5h7M210.5 390v7M207 398.5h7M210.5 395v7M207 403.5h7M210.5 400v7M207 404.5h7M210.5 401v7M207 405.5h7M210.5 402v7M207 406.5h7M210.5 403v7M207 407.5h7M210.5 404v7M207 408.5h7M210.5 405v7M208 323.5h7M211.5 320v7M208 373.5h7M211.5 370v7M208 377.5h7M211.5 374v7M208 389.5h7M211.5 386v7M208 392.5h7M211.5 389v7M208 404.5h7M211.5 401v7M208 406.5h7M211.5 403v7M208 407.5h7M211.5 404v7M208 408.5h7M211.5 405v7M209 322.5h7M212.5 319v7M209 337.5h7M212.5 334v7M209 340.5h7M212.5 337v7M209 397.5h7M212.5 394v7M209 398.5h7M212.5 395v7M209 399.5h7M212.5 396v7M209 403.5h7M212.5 400v7M209 404.5h7M212.5 401v7M209 406.5h7M212.5 403v7M209 408.5h7M212.5 405v7M210 351.5h7M213.5 348v7M210 373.5h7M213.5 370v7M210 375.5h7M213.5 372v7M210 377.5h7M213.5 374v7M210 379.5h7M213.5 376v7M210 382.5h7M213.5 379v7M210 393.5h7M213.5 390v7M210 398.5h7M213.5 395v7M210 400.5h7M213.5 397v7M210 401.5h7M213.5 398v7M210 404.5h7M213.5 401v7M210 405.5h7M213.5 402v7M210 406.5h7M213.5 403v7M210 408.5h7M213.5 405v7M211 382.5h7M214.5 379v7M211 383.5h7M214.5 380v7M211 389.5h7M214.5 386v7M211 391.5h7M214.5 388v7M211 392.5h7M214.5 389v7M211 398.5h7M214.5 395v7M211 404.5h7M214.5 401v7M211 405.5h7M214.5 402v7M211 406.5h7M214.5 403v7M212 316.5h7M215.5 313v7M212 395.5h7M215.5 392v7M212 396.5h7M215.5 393v7M212 398.5h7M215.5 395v7M212 406.5h7M215.5 403v7M212 407.5h7M215.5 404v7M212 408.5h7M215.5 405v7M213 294.5h7M216.5 291v7M213 353.5h7M216.5 350v7M213 381.5h7M216.5 378v7M213 386.5h7M216.5 383v7M213 393.5h7M216.5 390v7M213 395.5h7M216.5 392v7M213 399.5h7M216.5 396v7M213 402.5h7M216.5 399v7M213 406.5h7M216.5 403v7M214 358.5h7M217.5 355v7M214 376.5h7M217.5 373v7M214 390.5h7M217.5 387v7M214 393.5h7M217.5 390v7M214 395.5h7M217.5 392v7M214 396.5h7M217.5 393v7M214 400.5h7M217.5 397v7M214 402.5h7M217.5 399v7M214 406.5h7M217.5 403v7M214 407.5h7M217.5 404v7M214 408.5h7M217.5 405v7M215 359.5h7M218.5 356v7M215 374.5h7M218.5 371v7M215 381.5h7M218.5 378v7M215 391.5h7M218.5 388v7M215 402.5h7M218.5 399v7M215 403.5h7M218.5 400v7M215 405.5h7M218.5 402v7M215 406.5h7M218.5 403v7M215 408.5h7M218.5 405v7M216 371.5h7M219.5 368v7M216 387.5h7M219.5 384v7M216 392.5h7M219.5 389v7M216 393.5h7M219.5 390v7M216 395.5h7M219.5 392v7M216 402.5h7M219.5 399v7M216 403.5h7M219.5 400v7M216 405.5h7M219.5 402v7M216 407.5h7M219.5 404v7M216 408.5h7M219.5 405v7M216 409.5h7M219.5 406v7M217 376.5h7M220.5 373v7M217 395.5h7M220.5 392v7M217 399.5h7M220.5 396v7M217 402.5h7M220.5 399v7M217 405.5h7M220.5 402v7M217 407.5h7M220.5 404v7M217 409.5h7M220.5 406v7M218 371.5h7M221.5 368v7M218 374.5h7M221.5 371v7M218 394.5h7M221.5 391v7M218 396.5h7M221.5 393v7M218 397.5h7M221.5 394v7M218 402.5h7M221.5 399v7M218 404.5h7M221.5 401v7M218 405.5h7M221.5 402v7M218 407.5h7M221.5 404v7M218 408.5h7M221.5 405v7M219 305.5h7M222.5 302v7M219 374.5h7M222.5 371v7M219 385.5h7M222.5 382v7M219 394.5h7M222.5 391v7M219 395.5h7M222.5 392v7M219 396.5h7M222.5 393v7M219 401.5h7M222.5 398v7M219 404.5h7M222.5 401v7M219 407.5h7M222.5 404v7M220 393.5h7M223.5 390v7M220 396.5h7M223.5 393v7M220 399.5h7M223.5 396v7M220 404.5h7M223.5 401v7M220 407.5h7M223.5 404v7M220 408.5h7M223.5 405v7M220 409.5h7M223.5 406v7M221 375.5h7M224.5 372v7M221 392.5h7M224.5 389v7M221 395.5h7M224.5 392v7M221 396.5h7M224.5 393v7M221 399.5h7M224.5 396v7M221 401.5h7M224.5 398v7M221 407.5h7M224.5 404v7M221 408.5h7M224.5 405v7M222 387.5h7M225.5 384v7M222 402.5h7M225.5 399v7M222 404.5h7M225.5 401v7M222 407.5h7M225.5 404v7M222 408.5h7M225.5 405v7M222 409.5h7M225.5 406v7M223 377.5h7M226.5 374v7M223 379.5h7M226.5 376v7M223 382.5h7M226.5 379v7M223 394.5h7M226.5 391v7M223 395.5h7M226.5 392v7M223 397.5h7M226.5 394v7M223 398.5h7M226.5 395v7M223 401.5h7M226.5 398v7M223 403.5h7M226.5 400v7M223 405.5h7M226.5 402v7M223 407.5h7M226.5 404v7M224 384.5h7M227.5 381v7M224 387.5h7M227.5 384v7M224 389.5h7M227.5 386v7M224 396.5h7M227.5 393v7M224 403.5h7M227.5 400v7M224 406.5h7M227.5 403v7M225 384.5h7M228.5 381v7M225 389.5h7M228.5 386v7M225 396.5h7M228.5 393v7M225 397.5h7M228.5 394v7M225 398.5h7M228.5 395v7M225 399.5h7M228.5 396v7M225 400.5h7M228.5 397v7M225 401.5h7M228.5 398v7M225 402.5h7M228.5 399v7M225 403.5h7M228.5 400v7M225 404.5h7M228.5 401v7M225 406.5h7M228.5 403v7M226 375.5h7M229.5 372v7M226 382.5h7M229.5 379v7M226 392.5h7M229.5 389v7M226 397.5h7M229.5 394v7M226 400.5h7M229.5 397v7M226 406.5h7M229.5 403v7M227 380.5h7M230.5 377v7M227 384.5h7M230.5 381v7M227 394.5h7M230.5 391v7M227 399.5h7M230.5 396v7M227 402.5h7M230.5 399v7M227 406.5h7M230.5 403v7M227 408.5h7M230.5 405v7M227 409.5h7M230.5 406v7M228 358.5h7M231.5 355v7M228 381.5h7M231.5 378v7M228 383.5h7M231.5 380v7M228 396.5h7M231.5 393v7M228 398.5h7M231.5 395v7M228 409.5h7M231.5 406v7M228 410.5h7M231.5 407v7M229 392.5h7M232.5 389v7M229 395.5h7M232.5 392v7M229 409.5h7M232.5 406v7M230 343.5h7M233.5 340v7M230 354.5h7M233.5 351v7M230 382.5h7M233.5 379v7M230 394.5h7M233.5 391v7M230 405.5h7M233.5 402v7M230 406.5h7M233.5 403v7M230 407.5h7M233.5 404v7M230 408.5h7M233.5 405v7M230 409.5h7M233.5 406v7M230 410.5h7M233.5 407v7M231 311.5h7M234.5 308v7M231 372.5h7M234.5 369v7M231 378.5h7M234.5 375v7M231 393.5h7M234.5 390v7M231 395.5h7M234.5 392v7M231 398.5h7M234.5 395v7M231 405.5h7M234.5 402v7M231 409.5h7M234.5 406v7M232 381.5h7M235.5 378v7M232 397.5h7M235.5 394v7M232 398.5h7M235.5 395v7M232 401.5h7M235.5 398v7M232 407.5h7M235.5 404v7M232 409.5h7M235.5 406v7M233 312.5h7M236.5 309v7M233 375.5h7M236.5 372v7M233 377.5h7M236.5 374v7M233 404.5h7M236.5 401v7M233 405.5h7M236.5 402v7M233 407.5h7M236.5 404v7M233 408.5h7M236.5 405v7M233 409.5h7M236.5 406v7M233 410.5h7M236.5 407v7M234 315.5h7M237.5 312v7M234 374.5h7M237.5 371v7M234 386.5h7M237.5 383v7M234 390.5h7M237.5 387v7M234 396.5h7M237.5 393v7M234 399.5h7M237.5 396v7M234 400.5h7M237.5 397v7M234 403.5h7M237.5 400v7M234 404.5h7M237.5 401v7M234 405.5h7M237.5 402v7M234 409.5h7M237.5 406v7M234 410.5h7M237.5 407v7M235 397.5h7M238.5 394v7M235 398.5h7M238.5 395v7M235 400.5h7M238.5 397v7M235 403.5h7M238.5 400v7M235 404.5h7M238.5 401v7M235 405.5h7M238.5 402v7M235 407.5h7M238.5 404v7M235 409.5h7M238.5 406v7M236 379.5h7M239.5 376v7M236 396.5h7M239.5 393v7M236 400.5h7M239.5 397v7M236 404.5h7M239.5 401v7M236 407.5h7M239.5 404v7M236 408.5h7M239.5 405v7M236 409.5h7M239.5 406v7M236 410.5h7M239.5 407v7M237 379.5h7M240.5 376v7M237 385.5h7M240.5 382v7M237 395.5h7M240.5 392v7M237 396.5h7M240.5 393v7M237 399.5h7M240.5 396v7M237 401.5h7M240.5 398v7M237 404.5h7M240.5 401v7M237 407.5h7M240.5 404v7M237 409.5h7M240.5 406v7M238 338.5h7M241.5 335v7M238 351.5h7M241.5 348v7M238 354.5h7M241.5 351v7M238 394.5h7M241.5 391v7M238 396.5h7M241.5 393v7M238 400.5h7M241.5 397v7M238 404.5h7M241.5 401v7M238 405.5h7M241.5 402v7M238 408.5h7M241.5 405v7M238 410.5h7M241.5 407v7M239 326.5h7M242.5 323v7M239 382.5h7M242.5 379v7M239 383.5h7M242.5 380v7M239 386.5h7M242.5 383v7M239 387.5h7M242.5 384v7M239 394.5h7M242.5 391v7M239 398.5h7M242.5 395v7M239 401.5h7M242.5 398v7M239 406.5h7M242.5 403v7M239 409.5h7M242.5 406v7M239 410.5h7M242.5 407v7M240 321.5h7M243.5 318v7M240 376.5h7M243.5 373v7M240 377.5h7M243.5 374v7M240 395.5h7M243.5 392v7M240 405.5h7M243.5 402v7M240 406.5h7M243.5 403v7M240 407.5h7M243.5 404v7M240 408.5h7M243.5 405v7M240 410.5h7M243.5 407v7M241 320.5h7M244.5 317v7M241 377.5h7M244.5 374v7M241 379.5h7M244.5 376v7M241 391.5h7M244.5 388v7M241 397.5h7M244.5 394v7M241 400.5h7M244.5 397v7M241 403.5h7M244.5 400v7M241 404.5h7M244.5 401v7M241 405.5h7M244.5 402v7M241 407.5h7M244.5 404v7M241 408.5h7M244.5 405v7M241 410.5h7M244.5 407v7M242 383.5h7M245.5 380v7M242 397.5h7M245.5 394v7M242 399.5h7M245.5 396v7M242 400.5h7M245.5 397v7M242 401.5h7M245.5 398v7M242 403.5h7M245.5 400v7M242 406.5h7M245.5 403v7M242 408.5h7M245.5 405v7M242 410.5h7M245.5 407v7M243 397.5h7M246.5 394v7M243 399.5h7M246.5 396v7M243 401.5h7M246.5 398v7M243 403.5h7M246.5 400v7M243 404.5h7M246.5 401v7M243 407.5h7M246.5 404v7M243 408.5h7M246.5 405v7M243 409.5h7M246.5 406v7M243 410.5h7M246.5 407v7M244 364.5h7M247.5 361v7M244 377.5h7M247.5 374v7M244 380.5h7M247.5 377v7M244 398.5h7M247.5 395v7M244 399.5h7M247.5 396v7M244 400.5h7M247.5 397v7M244 406.5h7M247.5 403v7M244 410.5h7M247.5 407v7M245 347.5h7M248.5 344v7M245 389.5h7M248.5 386v7M245 390.5h7M248.5 387v7M245 397.5h7M248.5 394v7M245 401.5h7M248.5 398v7M245 404.5h7M248.5 401v7M245 408.5h7M248.5 405v7M245 409.5h7M248.5 406v7M245 410.5h7M248.5 407v7M246 378.5h7M249.5 375v7M246 382.5h7M249.5 379v7M246 390.5h7M249.5 387v7M246 395.5h7M249.5 392v7M246 398.5h7M249.5 395v7M246 402.5h7M249.5 399v7M246 403.5h7M249.5 400v7M246 405.5h7M249.5 402v7M246 406.5h7M249.5 403v7M246 409.5h7M249.5 406v7M246 410.5h7M249.5 407v7M247 316.5h7M250.5 313v7M247 377.5h7M250.5 374v7M247 382.5h7M250.5 379v7M247 397.5h7M250.5 394v7M247 398.5h7M250.5 395v7M247 401.5h7M250.5 398v7M247 403.5h7M250.5 400v7M247 404.5h7M250.5 401v7M247 406.5h7M250.5 403v7M247 407.5h7M250.5 404v7M247 408.5h7M250.5 405v7M247 409.5h7M250.5 406v7M247 410.5h7M250.5 407v7M247 411.5h7M250.5 408v7M248 330.5h7M251.5 327v7M248 345.5h7M251.5 342v7M248 363.5h7M251.5 360v7M248 375.5h7M251.5 372v7M248 376.5h7M251.5 373v7M248 383.5h7M251.5 380v7M248 386.5h7M251.5 383v7M248 389.5h7M251.5 386v7M248 390.5h7M251.5 387v7M248 400.5h7M251.5 397v7M248 402.5h7M251.5 399v7M248 404.5h7M251.5 401v7M248 405.5h7M251.5 402v7M248 410.5h7M251.5 407v7M249 381.5h7M252.5 378v7M249 396.5h7M252.5 393v7M249 397.5h7M252.5 394v7M249 401.5h7M252.5 398v7M249 403.5h7M252.5 400v7M249 408.5h7M252.5 405v7M249 410.5h7M252.5 407v7M250 339.5h7M253.5 336v7M250 393.5h7M253.5 390v7M250 394.5h7M253.5 391v7M250 395.5h7M253.5 392v7M250 398.5h7M253.5 395v7M250 400.5h7M253.5 397v7M250 403.5h7M253.5 400v7M250 406.5h7M253.5 403v7M250 410.5h7M253.5 407v7M251 365.5h7M254.5 362v7M251 376.5h7M254.5 373v7M251 380.5h7M254.5 377v7M251 384.5h7M254.5 381v7M251 387.5h7M254.5 384v7M251 396.5h7M254.5 393v7M251 397.5h7M254.5 394v7M251 398.5h7M254.5 395v7M251 399.5h7M254.5 396v7M251 400.5h7M254.5 397v7M251 405.5h7M254.5 402v7M251 408.5h7M254.5 405v7M251 409.5h7M254.5 406v7M252 341.5h7M255.5 338v7M252 349.5h7M255.5 346v7M252 359.5h7M255.5 356v7M252 392.5h7M255.5 389v7M252 394.5h7M255.5 391v7M252 398.5h7M255.5 395v7M252 405.5h7M255.5 402v7M252 408.5h7M255.5 405v7M252 409.5h7M255.5 406v7M253 389.5h7M256.5 386v7M253 391.5h7M256.5 388v7M253 394.5h7M256.5 391v7M253 405.5h7M256.5 402v7M253 408.5h7M256.5 405v7M253 409.5h7M256.5 406v7M253 410.5h7M256.5 407v7M254 368.5h7M257.5 365v7M254 381.5h7M257.5 378v7M254 406.5h7M257.5 403v7M254 408.5h7M257.5 405v7M254 409.5h7M257.5 406v7M254 411.5h7M257.5 408v7M255 378.5h7M258.5 375v7M255 393.5h7M258.5 390v7M255 397.5h7M258.5 394v7M255 398.5h7M258.5 395v7M255 400.5h7M258.5 397v7M255 402.5h7M258.5 399v7M255 403.5h7M258.5 400v7M255 405.5h7M258.5 402v7M255 407.5h7M258.5 404v7M255 408.5h7M258.5 405v7M255 409.5h7M258.5 406v7M255 411.5h7M258.5 408v7M256 380.5h7M259.5 377v7M256 385.5h7M259.5 382v7M256 395.5h7M259.5 392v7M256 399.5h7M259.5 396v7M256 402.5h7M259.5 399v7M256 403.5h7M259.5 400v7M256 404.5h7M259.5 401v7M256 407.5h7M259.5 404v7M256 409.5h7M259.5 406v7M256 410.5h7M259.5 407v7M257 384.5h7M260.5 381v7M257 399.5h7M260.5 396v7M257 404.5h7M260.5 401v7M257 405.5h7M260.5 402v7M257 408.5h7M260.5 405v7M258 328.5h7M261.5 325v7M258 361.5h7M261.5 358v7M258 388.5h7M261.5 385v7M258 393.5h7M261.5 390v7M258 397.5h7M261.5 394v7M258 398.5h7M261.5 395v7M258 399.5h7M261.5 396v7M258 403.5h7M261.5 400v7M258 405.5h7M261.5 402v7M259 335.5h7M262.5 332v7M259 378.5h7M262.5 375v7M259 388.5h7M262.5 385v7M259 399.5h7M262.5 396v7M259 404.5h7M262.5 401v7M259 406.5h7M262.5 403v7M259 410.5h7M262.5 407v7M259 411.5h7M262.5 408v7M260 375.5h7M263.5 372v7M260 386.5h7M263.5 383v7M260 388.5h7M263.5 385v7M260 394.5h7M263.5 391v7M260 396.5h7M263.5 393v7M260 397.5h7M263.5 394v7M260 400.5h7M263.5 397v7M260 401.5h7M263.5 398v7M260 403.5h7M263.5 400v7M260 406.5h7M263.5 403v7M260 408.5h7M263.5 405v7M260 410.5h7M263.5 407v7M261 383.5h7M264.5 380v7M261 392.5h7M264.5 389v7M261 394.5h7M264.5 391v7M261 395.5h7M264.5 392v7M261 398.5h7M264.5 395v7M261 404.5h7M264.5 401v7M261 405.5h7M264.5 402v7M261 407.5h7M264.5 404v7M261 408.5h7M264.5 405v7M261 411.5h7M264.5 408v7M262 378.5h7M265.5 375v7M262 382.5h7M265.5 379v7M262 388.5h7M265.5 385v7M262 397.5h7M265.5 394v7M262 400.5h7M265.5 397v7M262 403.5h7M265.5 400v7M262 404.5h7M265.5 401v7M262 405.5h7M265.5 402v7M262 406.5h7M265.5 403v7M262 408.5h7M265.5 405v7M262 409.5h7M265.5 406v7M262 410.5h7M265.5 407v7M262 411.5h7M265.5 408v7M263 378.5h7M266.5 375v7M263 389.5h7M266.5 386v7M263 391.5h7M266.5 388v7M263 397.5h7M266.5 394v7M263 401.5h7M266.5 398v7M263 403.5h7M266.5 400v7M263 406.5h7M266.5 403v7M263 411.5h7M266.5 408v7M264 383.5h7M267.5 380v7M264 399.5h7M267.5 396v7M264 400.5h7M267.5 397v7M264 410.5h7M267.5 407v7M265 342.5h7M268.5 339v7M265 375.5h7M268.5 372v7M265 399.5h7M268.5 396v7M265 400.5h7M268.5 397v7M265 401.5h7M268.5 398v7M265 402.5h7M268.5 399v7M265 404.5h7M268.5 401v7M265 405.5h7M268.5 402v7M265 406.5h7M268.5 403v7M265 407.5h7M268.5 404v7M265 409.5h7M268.5 406v7M265 410.5h7M268.5 407v7M266 385.5h7M269.5 382v7M266 387.5h7M269.5 384v7M266 389.5h7M269.5 386v7M266 396.5h7M269.5 393v7M266 399.5h7M269.5 396v7M266 405.5h7M269.5 402v7M266 407.5h7M269.5 404v7M266 410.5h7M269.5 407v7M266 411.5h7M269.5 408v7M267 394.5h7M270.5 391v7M267 397.5h7M270.5 394v7M267 400.5h7M270.5 397v7M267 401.5h7M270.5 398v7M267 403.5h7M270.5 400v7M267 404.5h7M270.5 401v7M267 407.5h7M270.5 404v7M267 408.5h7M270.5 405v7M267 410.5h7M270.5 407v7M267 411.5h7M270.5 408v7M268 384.5h7M271.5 381v7M268 387.5h7M271.5 384v7M268 394.5h7M271.5 391v7M268 395.5h7M271.5 392v7M268 408.5h7M271.5 405v7M268 411.5h7M271.5 408v7M269 395.5h7M272.5 392v7M269 397.5h7M272.5 394v7M269 400.5h7M272.5 397v7M269 401.5h7M272.5 398v7M269 402.5h7M272.5 399v7M269 404.5h7M272.5 401v7M269 405.5h7M272.5 402v7M269 408.5h7M272.5 405v7M269 409.5h7M272.5 406v7M269 411.5h7M272.5 408v7M270 374.5h7M273.5 371v7M270 385.5h7M273.5 382v7M270 395.5h7M273.5 392v7M270 399.5h7M273.5 396v7M270 400.5h7M273.5 397v7M270 404.5h7M273.5 401v7M270 409.5h7M273.5 406v7M270 410.5h7M273.5 407v7M271 382.5h7M274.5 379v7M271 394.5h7M274.5 391v7M271 395.5h7M274.5 392v7M271 402.5h7M274.5 399v7M271 404.5h7M274.5 401v7M271 407.5h7M274.5 404v7M271 409.5h7M274.5 406v7M271 410.5h7M274.5 407v7M271 411.5h7M274.5 408v7M272 337.5h7M275.5 334v7M272 350.5h7M275.5 347v7M272 387.5h7M275.5 384v7M272 393.5h7M275.5 390v7M272 400.5h7M275.5 397v7M272 405.5h7M275.5 402v7M272 406.5h7M275.5 403v7M272 411.5h7M275.5 408v7M273 372.5h7M276.5 369v7M273 385.5h7M276.5 382v7M273 390.5h7M276.5 387v7M273 393.5h7M276.5 390v7M273 396.5h7M276.5 393v7M273 402.5h7M276.5 399v7M273 406.5h7M276.5 403v7M273 407.5h7M276.5 404v7M273 410.5h7M276.5 407v7M273 411.5h7M276.5 408v7M274 390.5h7M277.5 387v7M274 391.5h7M277.5 388v7M274 395.5h7M277.5 392v7M274 398.5h7M277.5 395v7M274 403.5h7M277.5 400v7M274 407.5h7M277.5 404v7M274 408.5h7M277.5 405v7M274 411.5h7M277.5 408v7M275 370.5h7M278.5 367v7M275 387.5h7M278.5 384v7M275 388.5h7M278.5 385v7M275 390.5h7M278.5 387v7M275 395.5h7M278.5 392v7M275 396.5h7M278.5 393v7M275 401.5h7M278.5 398v7M275 409.5h7M278.5 406v7M275 410.5h7M278.5 407v7M276 380.5h7M279.5 377v7M276 394.5h7M279.5 391v7M276 404.5h7M279.5 401v7M276 407.5h7M279.5 404v7M276 410.5h7M279.5 407v7M276 411.5h7M279.5 408v7M277 385.5h7M280.5 382v7M277 388.5h7M280.5 385v7M277 394.5h7M280.5 391v7M277 402.5h7M280.5 399v7M277 408.5h7M280.5 405v7M277 409.5h7M280.5 406v7M277 410.5h7M280.5 407v7M277 411.5h7M280.5 408v7M278 333.5h7M281.5 330v7M278 388.5h7M281.5 385v7M278 392.5h7M281.5 389v7M278 397.5h7M281.5 394v7M278 398.5h7M281.5 395v7M278 399.5h7M281.5 396v7M278 408.5h7M281.5 405v7M278 410.5h7M281.5 407v7M278 411.5h7M281.5 408v7M278 412.5h7M281.5 409v7M279 336.5h7M282.5 333v7M279 394.5h7M282.5 391v7M279 402.5h7M282.5 399v7M279 408.5h7M282.5 405v7M279 409.5h7M282.5 406v7M279 411.5h7M282.5 408v7M279 412.5h7M282.5 409v7M280 363.5h7M283.5 360v7M280 383.5h7M283.5 380v7M280 410.5h7M283.5 407v7M280 411.5h7M283.5 408v7M280 412.5h7M283.5 409v7M281 380.5h7M284.5 377v7M281 392.5h7M284.5 389v7M281 401.5h7M284.5 398v7M281 403.5h7M284.5 400v7M281 406.5h7M284.5 403v7M281 407.5h7M284.5 404v7M281 408.5h7M284.5 405v7M281 409.5h7M284.5 406v7M281 411.5h7M284.5 408v7M281 412.5h7M284.5 409v7M282 392.5h7M285.5 389v7M282 397.5h7M285.5 394v7M282 398.5h7M285.5 395v7M282 399.5h7M285.5 396v7M282 400.5h7M285.5 397v7M282 401.5h7M285.5 398v7M282 409.5h7M285.5 406v7M282 412.5h7M285.5 409v7M283 347.5h7M286.5 344v7M283 355.5h7M286.5 352v7M283 393.5h7M286.5 390v7M283 395.5h7M286.5 392v7M283 402.5h7M286.5 399v7M283 405.5h7M286.5 402v7M283 406.5h7M286.5 403v7M283 408.5h7M286.5 405v7M283 412.5h7M286.5 409v7M284 388.5h7M287.5 385v7M284 395.5h7M287.5 392v7M284 397.5h7M287.5 394v7M284 398.5h7M287.5 395v7M284 399.5h7M287.5 396v7M284 404.5h7M287.5 401v7M284 405.5h7M287.5 402v7M284 409.5h7M287.5 406v7M284 410.5h7M287.5 407v7M284 411.5h7M287.5 408v7M284 412.5h7M287.5 409v7M285 381.5h7M288.5 378v7M285 387.5h7M288.5 384v7M285 391.5h7M288.5 388v7M285 399.5h7M288.5 396v7M285 406.5h7M288.5 403v7M285 410.5h7M288.5 407v7M285 412.5h7M288.5 409v7M286 396.5h7M289.5 393v7M286 400.5h7M289.5 397v7M286 408.5h7M289.5 405v7M286 409.5h7M289.5 406v7M286 410.5h7M289.5 407v7M286 411.5h7M289.5 408v7M287 384.5h7M290.5 381v7M287 387.5h7M290.5 384v7M287 396.5h7M290.5 393v7M287 407.5h7M290.5 404v7M287 411.5h7M290.5 408v7M288 389.5h7M291.5 386v7M288 397.5h7M291.5 394v7M288 398.5h7M291.5 395v7M288 401.5h7M291.5 398v7M288 408.5h7M291.5 405v7M288 411.5h7M291.5 408v7M288 412.5h7M291.5 409v7M289 361.5h7M292.5 358v7M289 396.5h7M292.5 393v7M289 399.5h7M292.5 396v7M289 402.5h7M292.5 399v7M289 405.5h7M292.5 402v7M289 406.5h7M292.5 403v7M289 411.5h7M292.5 408v7M289 412.5h7M292.5 409v7M290 343.5h7M293.5 340v7M290 355.5h7M293.5 352v7M290 370.5h7M293.5 367v7M290 394.5h7M293.5 391v7M290 398.5h7M293.5 395v7M290 402.5h7M293.5 399v7M290 403.5h7M293.5 400v7M290 407.5h7M293.5 404v7M290 410.5h7M293.5 407v7M290 412.5h7M293.5 409v7M291 392.5h7M294.5 389v7M291 405.5h7M294.5 402v7M291 409.5h7M294.5 406v7M291 412.5h7M294.5 409v7M292 391.5h7M295.5 388v7M292 405.5h7M295.5 402v7M292 410.5h7M295.5 407v7M292 412.5h7M295.5 409v7M293 385.5h7M296.5 382v7M293 386.5h7M296.5 383v7M293 395.5h7M296.5 392v7M293 397.5h7M296.5 394v7M293 399.5h7M296.5 396v7M293 400.5h7M296.5 397v7M293 402.5h7M296.5 399v7M293 406.5h7M296.5 403v7M293 409.5h7M296.5 406v7M293 411.5h7M296.5 408v7M293 412.5h7M296.5 409v7M294 387.5h7M297.5 384v7M294 400.5h7M297.5 397v7M294 401.5h7M297.5 398v7M294 402.5h7M297.5 399v7M294 404.5h7M297.5 401v7M294 409.5h7M297.5 406v7M294 410.5h7M297.5 407v7M294 412.5h7M297.5 409v7M295 342.5h7M298.5 339v7M295 395.5h7M298.5 392v7M295 398.5h7M298.5 395v7M295 403.5h7M298.5 400v7M295 405.5h7M298.5 402v7M295 408.5h7M298.5 405v7M295 412.5h7M298.5 409v7M296 386.5h7M299.5 383v7M296 395.5h7M299.5 392v7M296 401.5h7M299.5 398v7M296 404.5h7M299.5 401v7M296 409.5h7M299.5 406v7M296 412.5h7M299.5 409v7M297 403.5h7M300.5 400v7M297 408.5h7M300.5 405v7M297 410.5h7M300.5 407v7M297 411.5h7M300.5 408v7M298 368.5h7M301.5 365v7M298 375.5h7M301.5 372v7M298 392.5h7M301.5 389v7M298 395.5h7M301.5 392v7M298 396.5h7M301.5 393v7M298 397.5h7M301.5 394v7M298 406.5h7M301.5 403v7M298 408.5h7M301.5 405v7M298 410.5h7M301.5 407v7M298 411.5h7M301.5 408v7M299 397.5h7M302.5 394v7M299 405.5h7M302.5 402v7M299 407.5h7M302.5 404v7M299 411.5h7M302.5 408v7M299 412.5h7M302.5 409v7M300 374.5h7M303.5 371v7M300 401.5h7M303.5 398v7M300 408.5h7M303.5 405v7M300 409.5h7M303.5 406v7M300 411.5h7M303.5 408v7M300 412.5h7M303.5 409v7M301 350.5h7M304.5 347v7M301 390.5h7M304.5 387v7M301 398.5h7M304.5 395v7M301 402.5h7M304.5 399v7M301 403.5h7M304.5 400v7M301 405.5h7M304.5 402v7M301 408.5h7M304.5 405v7M301 410.5h7M304.5 407v7M301 412.5h7M304.5 409v7M302 342.5h7M305.5 339v7M302 363.5h7M305.5 360v7M302 395.5h7M305.5 392v7M302 399.5h7M305.5 396v7M302 401.5h7M305.5 398v7M302 412.5h7M305.5 409v7M303 394.5h7M306.5 391v7M303 398.5h7M306.5 395v7M303 399.5h7M306.5 396v7M303 400.5h7M306.5 397v7M303 401.5h7M306.5 398v7M303 402.5h7M306.5 399v7M303 407.5h7M306.5 404v7M303 408.5h7M306.5 405v7M303 410.5h7M306.5 407v7M303 411.5h7M306.5 408v7M303 412.5h7M306.5 409v7M304 383.5h7M307.5 380v7M304 398.5h7M307.5 395v7M304 399.5h7M307.5 396v7M304 401.5h7M307.5 398v7M304 408.5h7M307.5 405v7M304 410.5h7M307.5 407v7M304 412.5h7M307.5 409v7M305 347.5h7M308.5 344v7M305 368.5h7M308.5 365v7M305 389.5h7M308.5 386v7M305 392.5h7M308.5 389v7M305 395.5h7M308.5 392v7M305 401.5h7M308.5 398v7M305 402.5h7M308.5 399v7M305 403.5h7M308.5 400v7M305 407.5h7M308.5 404v7M305 409.5h7M308.5 406v7M305 410.5h7M308.5 407v7M305 412.5h7M308.5 409v7M306 393.5h7M309.5 390v7M306 395.5h7M309.5 392v7M306 396.5h7M309.5 393v7M306 399.5h7M309.5 396v7M306 402.5h7M309.5 399v7M306 403.5h7M309.5 400v7M306 405.5h7M309.5 402v7M306 410.5h7M309.5 407v7M306 411.5h7M309.5 408v7M306 412.5h7M309.5 409v7M307 373.5h7M310.5 370v7M307 395.5h7M310.5 392v7M307 397.5h7M310.5 394v7M307 400.5h7M310.5 397v7M307 406.5h7M310.5 403v7M307 407.5h7M310.5 404v7M307 408.5h7M310.5 405v7M307 412.5h7M310.5 409v7M308 397.5h7M311.5 394v7M308 402.5h7M311.5 399v7M308 411.5h7M311.5 408v7M308 412.5h7M311.5 409v7M309 389.5h7M312.5 386v7M309 393.5h7M312.5 390v7M309 401.5h7M312.5 398v7M309 402.5h7M312.5 399v7M309 403.5h7M312.5 400v7M309 408.5h7M312.5 405v7M309 412.5h7M312.5 409v7M310 354.5h7M313.5 351v7M310 400.5h7M313.5 397v7M310 401.5h7M313.5 398v7M310 403.5h7M313.5 400v7M310 404.5h7M313.5 401v7M310 408.5h7M313.5 405v7M310 412.5h7M313.5 409v7M310 413.5h7M313.5 410v7M311 362.5h7M314.5 359v7M311 382.5h7M314.5 379v7M311 397.5h7M314.5 394v7M311 401.5h7M314.5 398v7M311 406.5h7M314.5 403v7M311 408.5h7M314.5 405v7M311 409.5h7M314.5 406v7M311 411.5h7M314.5 408v7M312 387.5h7M315.5 384v7M312 388.5h7M315.5 385v7M312 398.5h7M315.5 395v7M312 399.5h7M315.5 396v7M312 400.5h7M315.5 397v7M312 401.5h7M315.5 398v7M312 404.5h7M315.5 401v7M312 412.5h7M315.5 409v7M312 413.5h7M315.5 410v7M313 390.5h7M316.5 387v7M313 392.5h7M316.5 389v7M313 397.5h7M316.5 394v7M313 411.5h7M316.5 408v7M313 412.5h7M316.5 409v7M313 413.5h7M316.5 410v7M314 370.5h7M317.5 367v7M314 408.5h7M317.5 405v7M315 394.5h7M318.5 391v7M315 403.5h7M318.5 400v7M315 404.5h7M318.5 401v7M315 405.5h7M318.5 402v7M315 409.5h7M318.5 406v7M315 410.5h7M318.5 407v7M316 407.5h7M319.5 404v7M316 410.5h7M319.5 407v7M317 368.5h7M320.5 365v7M317 391.5h7M320.5 388v7M317 395.5h7M320.5 392v7M317 397.5h7M320.5 394v7M317 404.5h7M320.5 401v7M317 407.5h7M320.5 404v7M317 412.5h7M320.5 409v7M318 380.5h7M321.5 377v7M318 401.5h7M321.5 398v7M318 402.5h7M321.5 399v7M318 406.5h7M321.5 403v7M318 408.5h7M321.5 405v7M318 411.5h7M321.5 408v7M318 413.5h7M321.5 410v7M319 364.5h7M322.5 361v7M319 388.5h7M322.5 385v7M319 393.5h7M322.5 390v7M319 395.5h7M322.5 392v7M319 396.5h7M322.5 393v7M319 401.5h7M322.5 398v7M319 404.5h7M322.5 401v7M319 405.5h7M322.5 402v7M319 406.5h7M322.5 403v7M319 408.5h7M322.5 405v7M319 409.5h7M322.5 406v7M319 411.5h7M322.5 408v7M319 412.5h7M322.5 409v7M320 361.5h7M323.5 358v7M320 392.5h7M323.5 389v7M320 396.5h7M323.5 393v7M320 402.5h7M323.5 399v7M320 409.5h7M323.5 406v7M320 410.5h7M323.5 407v7M320 411.5h7M323.5 408v7M320 413.5h7M323.5 410v7M321 395.5h7M324.5 392v7M321 397.5h7M324.5 394v7M321 403.5h7M324.5 400v7M321 404.5h7M324.5 401v7M321 405.5h7M324.5 402v7M321 407.5h7M324.5 404v7M321 409.5h7M324.5 406v7M321 410.5h7M324.5 407v7M321 412.5h7M324.5 409v7M322 401.5h7M325.5 398v7M322 403.5h7M325.5 400v7M322 412.5h7M325.5 409v7M323 384.5h7M326.5 381v7M323 397.5h7M326.5 394v7M323 405.5h7M326.5 402v7M323 408.5h7M326.5 405v7M323 409.5h7M326.5 406v7M323 410.5h7M326.5 407v7M323 412.5h7M326.5 409v7M323 413.5h7M326.5 410v7M324 398.5h7M327.5 395v7M324 401.5h7M327.5 398v7M324 405.5h7M327.5 402v7M324 411.5h7M327.5 408v7M324 413.5h7M327.5 410v7M325 388.5h7M328.5 385v7M325 401.5h7M328.5 398v7M325 402.5h7M328.5 399v7M325 409.5h7M328.5 406v7M325 411.5h7M328.5 408v7M325 412.5h7M328.5 409v7M326 395.5h7M329.5 392v7M326 399.5h7M329.5 396v7M326 403.5h7M329.5 400v7M326 409.5h7M329.5 406v7M326 410.5h7M329.5 407v7M326 411.5h7M329.5 408v7M326 412.5h7M329.5 409v7M327 356.5h7M330.5 353v7M327 387.5h7M330.5 384v7M327 404.5h7M330.5 401v7M327 405.5h7M330.5 402v7M327 407.5h7M330.5 404v7M327 408.5h7M330.5 405v7M327 409.5h7M330.5 406v7M327 410.5h7M330.5 407v7M327 411.5h7M330.5 408v7M328 391.5h7M331.5 388v7M328 393.5h7M331.5 390v7M328 404.5h7M331.5 401v7M328 405.5h7M331.5 402v7M328 408.5h7M331.5 405v7M328 409.5h7M331.5 406v7M328 410.5h7M331.5 407v7M328 411.5h7M331.5 408v7M328 412.5h7M331.5 409v7M328 413.5h7M331.5 410v7M329 386.5h7M332.5 383v7M329 397.5h7M332.5 394v7M329 398.5h7M332.5 395v7M329 408.5h7M332.5 405v7M329 409.5h7M332.5 406v7M329 411.5h7M332.5 408v7M329 412.5h7M332.5 409v7M329 413.5h7M332.5 410v7M330 398.5h7M333.5 395v7M330 406.5h7M333.5 403v7M330 412.5h7M333.5 409v7M330 413.5h7M333.5 410v7M331 397.5h7M334.5 394v7M331 401.5h7M334.5 398v7M331 403.5h7M334.5 400v7M331 405.5h7M334.5 402v7M331 410.5h7M334.5 407v7M331 411.5h7M334.5 408v7M331 412.5h7M334.5 409v7M332 380.5h7M335.5 377v7M332 390.5h7M335.5 387v7M332 396.5h7M335.5 393v7M332 397.5h7M335.5 394v7M332 401.5h7M335.5 398v7M332 405.5h7M335.5 402v7M332 407.5h7M335.5 404v7M332 411.5h7M335.5 408v7M332 413.5h7M335.5 410v7M333 390.5h7M336.5 387v7M333 394.5h7M336.5 391v7M333 397.5h7M336.5 394v7M333 406.5h7M336.5 403v7M333 407.5h7M336.5 404v7M333 410.5h7M336.5 407v7M333 411.5h7M336.5 408v7M333 412.5h7M336.5 409v7M333 413.5h7M336.5 410v7M334 376.5h7M337.5 373v7M334 391.5h7M337.5 388v7M334 400.5h7M337.5 397v7M334 406.5h7M337.5 403v7M334 407.5h7M337.5 404v7M334 408.5h7M337.5 405v7M335 368.5h7M338.5 365v7M335 386.5h7M338.5 383v7M335 398.5h7M338.5 395v7M335 404.5h7M338.5 401v7M335 411.5h7M338.5 408v7M335 412.5h7M338.5 409v7M335 413.5h7M338.5 410v7M336 394.5h7M339.5 391v7M336 396.5h7M339.5 393v7M336 404.5h7M339.5 401v7M336 406.5h7M339.5 403v7M336 407.5h7M339.5 404v7M336 408.5h7M339.5 405v7M336 410.5h7M339.5 407v7M336 412.5h7M339.5 409v7M336 413.5h7M339.5 410v7M337 397.5h7M340.5 394v7M337 400.5h7M340.5 397v7M337 405.5h7M340.5 402v7M337 406.5h7M340.5 403v7M337 408.5h7M340.5 405v7M337 411.5h7M340.5 408v7M337 412.5h7M340.5 409v7M337 413.5h7M340.5 410v7M338 391.5h7M341.5 388v7M338 412.5h7M341.5 409v7M338 413.5h7M341.5 410v7M339 397.5h7M342.5 394v7M339 401.5h7M342.5 398v7M339 404.5h7M342.5 401v7M339 406.5h7M342.5 403v7M339 409.5h7M342.5 406v7M339 410.5h7M342.5 407v7M339 413.5h7M342.5 410v7M340 356.5h7M343.5 353v7M340 388.5h7M343.5 385v7M340 392.5h7M343.5 389v7M340 398.5h7M343.5 395v7M340 400.5h7M343.5 397v7M340 407.5h7M343.5 404v7M340 408.5h7M343.5 405v7M340 410.5h7M343.5 407v7M340 411.5h7M343.5 408v7M340 412.5h7M343.5 409v7M340 413.5h7M343.5 410v7M341 368.5h7M344.5 365v7M341 394.5h7M344.5 391v7M341 400.5h7M344.5 397v7M341 404.5h7M344.5 401v7M341 413.5h7M344.5 410v7M342 399.5h7M345.5 396v7M342 400.5h7M345.5 397v7M342 402.5h7M345.5 399v7M342 409.5h7M345.5 406v7M342 413.5h7M345.5 410v7M343 399.5h7M346.5 396v7M343 404.5h7M346.5 401v7M343 407.5h7M346.5 404v7M343 409.5h7M346.5 406v7M343 411.5h7M346.5 408v7M343 412.5h7M346.5 409v7M343 413.5h7M346.5 410v7M344 395.5h7M347.5 392v7M344 397.5h7M347.5 394v7M344 402.5h7M347.5 399v7M344 406.5h7M347.5 403v7M344 412.5h7M347.5 409v7M345 397.5h7M348.5 394v7M345 401.5h7M348.5 398v7M345 404.5h7M348.5 401v7M345 409.5h7M348.5 406v7M345 410.5h7M348.5 407v7M345 411.5h7M348.5 408v7M345 413.5h7M348.5 410v7M346 398.5h7M349.5 395v7M346 401.5h7M349.5 398v7M346 409.5h7M349.5 406v7M346 411.5h7M349.5 408v7M346 412.5h7M349.5 409v7M347 395.5h7M350.5 392v7M347 399.5h7M350.5 396v7M347 403.5h7M350.5 400v7M347 406.5h7M350.5 403v7M347 409.5h7M350.5 406v7M347 410.5h7M350.5 407v7M347 412.5h7M350.5 409v7M347 413.5h7M350.5 410v7M348 392.5h7M351.5 389v7M348 393.5h7M351.5 390v7M348 397.5h7M351.5 394v7M348 405.5h7M351.5 402v7M348 411.5h7M351.5 408v7M348 413.5h7M351.5 410v7M349 358.5h7M352.5 355v7M349 394.5h7M352.5 391v7M349 396.5h7M352.5 393v7M349 397.5h7M352.5 394v7M349 401.5h7M352.5 398v7M349 403.5h7M352.5 400v7M349 409.5h7M352.5 406v7M349 410.5h7M352.5 407v7M349 413.5h7M352.5 410v7M350 401.5h7M353.5 398v7M350 407.5h7M353.5 404v7M350 410.5h7M353.5 407v7M350 411.5h7M353.5 408v7M350 412.5h7M353.5 409v7M350 413.5h7M353.5 410v7M351 390.5h7M354.5 387v7M351 408.5h7M354.5 405v7M351 409.5h7M354.5 406v7M351 412.5h7M354.5 409v7M351 413.5h7M354.5 410v7M352 386.5h7M355.5 383v7M352 397.5h7M355.5 394v7M352 400.5h7M355.5 397v7M352 401.5h7M355.5 398v7M352 411.5h7M355.5 408v7M352 412.5h7M355.5 409v7M352 413.5h7M355.5 410v7M353 395.5h7M356.5 392v7M353 398.5h7M356.5 395v7M353 400.5h7M356.5 397v7M353 403.5h7M356.5 400v7M353 406.5h7M356.5 403v7M353 408.5h7M356.5 405v7M353 410.5h7M356.5 407v7M353 411.5h7M356.5 408v7M353 413.5h7M356.5 410v7M354 399.5h7M357.5 396v7M354 405.5h7M357.5 402v7M354 410.5h7M357.5 407v7M354 411.5h7M357.5 408v7M354 412.5h7M357.5 409v7M355 398.5h7M358.5 395v7M355 401.5h7M358.5 398v7M355 404.5h7M358.5 401v7M355 405.5h7M358.5 402v7M355 409.5h7M358.5 406v7M355 410.5h7M358.5 407v7M355 412.5h7M358.5 409v7M356 396.5h7M359.5 393v7M356 404.5h7M359.5 401v7M356 406.5h7M359.5 403v7M356 407.5h7M359.5 404v7M356 408.5h7M359.5 405v7M356 413.5h7M359.5 410v7M357 398.5h7M360.5 395v7M357 399.5h7M360.5 396v7M357 404.5h7M360.5 401v7M357 409.5h7M360.5 406v7M357 411.5h7M360.5 408v7M357 413.5h7M360.5 410v7M358 371.5h7M361.5 368v7M358 391.5h7M361.5 388v7M358 394.5h7M361.5 391v7M358 401.5h7M361.5 398v7M358 404.5h7M361.5 401v7M358 409.5h7M361.5 406v7M358 412.5h7M361.5 409v7M358 413.5h7M361.5 410v7M359 404.5h7M362.5 401v7M359 413.5h7M362.5 410v7M359 414.5h7M362.5 411v7M360 398.5h7M363.5 395v7M360 400.5h7M363.5 397v7M360 404.5h7M363.5 401v7M360 406.5h7M363.5 403v7M360 412.5h7M363.5 409v7M360 413.5h7M363.5 410v7M360 414.5h7M363.5 411v7M361 399.5h7M364.5 396v7M361 402.5h7M364.5 399v7M361 404.5h7M364.5 401v7M361 405.5h7M364.5 402v7M361 410.5h7M364.5 407v7M361 411.5h7M364.5 408v7M361 413.5h7M364.5 410v7M361 414.5h7M364.5 411v7M362 372.5h7M365.5 369v7M362 387.5h7M365.5 384v7M362 396.5h7M365.5 393v7M362 398.5h7M365.5 395v7M362 401.5h7M365.5 398v7M362 405.5h7M365.5 402v7M362 408.5h7M365.5 405v7M362 410.5h7M365.5 407v7M362 413.5h7M365.5 410v7M362 414.5h7M365.5 411v7M363 393.5h7M366.5 390v7M363 396.5h7M366.5 393v7M363 408.5h7M366.5 405v7M363 410.5h7M366.5 407v7M363 413.5h7M366.5 410v7M363 414.5h7M366.5 411v7M364 399.5h7M367.5 396v7M364 405.5h7M367.5 402v7M364 407.5h7M367.5 404v7M364 410.5h7M367.5 407v7M364 413.5h7M367.5 410v7M365 360.5h7M368.5 357v7M365 389.5h7M368.5 386v7M365 390.5h7M368.5 387v7M365 403.5h7M368.5 400v7M365 404.5h7M368.5 401v7M365 407.5h7M368.5 404v7M365 409.5h7M368.5 406v7M365 410.5h7M368.5 407v7M365 412.5h7M368.5 409v7M365 413.5h7M368.5 410v7M366 401.5h7M369.5 398v7M366 403.5h7M369.5 400v7M366 405.5h7M369.5 402v7M366 407.5h7M369.5 404v7M366 408.5h7M369.5 405v7M366 409.5h7M369.5 406v7M366 410.5h7M369.5 407v7M366 411.5h7M369.5 408v7M366 413.5h7M369.5 410v7M367 406.5h7M370.5 403v7M367 408.5h7M370.5 405v7M367 409.5h7M370.5 406v7M368 398.5h7M371.5 395v7M368 403.5h7M371.5 400v7M368 405.5h7M371.5 402v7M368 407.5h7M371.5 404v7M368 412.5h7M371.5 409v7M368 414.5h7M371.5 411v7M369 367.5h7M372.5 364v7M369 381.5h7M372.5 378v7M369 400.5h7M372.5 397v7M369 404.5h7M372.5 401v7M369 405.5h7M372.5 402v7M369 406.5h7M372.5 403v7M369 408.5h7M372.5 405v7M369 411.5h7M372.5 408v7M369 413.5h7M372.5 410v7M370 394.5h7M373.5 391v7M370 398.5h7M373.5 395v7M370 408.5h7M373.5 405v7M370 409.5h7M373.5 406v7M370 410.5h7M373.5 407v7M370 412.5h7M373.5 409v7M370 413.5h7M373.5 410v7M371 400.5h7M374.5 397v7M371 401.5h7M374.5 398v7M371 402.5h7M374.5 399v7M371 404.5h7M374.5 401v7M371 407.5h7M374.5 404v7M371 412.5h7M374.5 409v7M371 413.5h7M374.5 410v7M371 414.5h7M374.5 411v7M372 391.5h7M375.5 388v7M372 398.5h7M375.5 395v7M372 403.5h7M375.5 400v7M372 404.5h7M375.5 401v7M372 406.5h7M375.5 403v7M372 407.5h7M375.5 404v7M372 413.5h7M375.5 410v7M373 367.5h7M376.5 364v7M373 385.5h7M376.5 382v7M373 394.5h7M376.5 391v7M373 397.5h7M376.5 394v7M373 408.5h7M376.5 405v7M373 409.5h7M376.5 406v7M373 413.5h7M376.5 410v7M373 414.5h7M376.5 411v7M374 379.5h7M377.5 376v7M374 405.5h7M377.5 402v7M374 406.5h7M377.5 403v7M374 407.5h7M377.5 404v7M374 410.5h7M377.5 407v7M374 411.5h7M377.5 408v7M374 412.5h7M377.5 409v7M374 414.5h7M377.5 411v7M375 392.5h7M378.5 389v7M375 399.5h7M378.5 396v7M375 404.5h7M378.5 401v7M375 408.5h7M378.5 405v7M375 412.5h7M378.5 409v7M375 413.5h7M378.5 410v7M375 414.5h7M378.5 411v7M376 377.5h7M379.5 374v7M376 399.5h7M379.5 396v7M376 400.5h7M379.5 397v7M376 406.5h7M379.5 403v7M376 409.5h7M379.5 406v7M376 411.5h7M379.5 408v7M376 412.5h7M379.5 409v7M376 413.5h7M379.5 410v7M376 414.5h7M379.5 411v7M377 394.5h7M380.5 391v7M377 401.5h7M380.5 398v7M377 407.5h7M380.5 404v7M377 408.5h7M380.5 405v7M377 410.5h7M380.5 407v7M377 414.5h7M380.5 411v7M378 390.5h7M381.5 387v7M378 392.5h7M381.5 389v7M378 402.5h7M381.5 399v7M378 404.5h7M381.5 401v7M378 407.5h7M381.5 404v7M378 412.5h7M381.5 409v7M378 414.5h7M381.5 411v7M379 400.5h7M382.5 397v7M379 406.5h7M382.5 403v7M379 407.5h7M382.5 404v7M379 409.5h7M382.5 406v7M379 410.5h7M382.5 407v7M379 412.5h7M382.5 409v7M379 414.5h7M382.5 411v7M380 401.5h7M383.5 398v7M380 403.5h7M383.5 400v7M380 408.5h7M383.5 405v7M380 412.5h7M383.5 409v7M380 413.5h7M383.5 410v7M380 414.5h7M383.5 411v7M381 383.5h7M384.5 380v7M381 404.5h7M384.5 401v7M381 408.5h7M384.5 405v7M381 410.5h7M384.5 407v7M381 412.5h7M384.5 409v7M381 413.5h7M384.5 410v7M382 405.5h7M385.5 402v7M382 411.5h7M385.5 408v7M382 412.5h7M385.5 409v7M382 413.5h7M385.5 410v7M382 414.5h7M385.5 411v7M383 399.5h7M386.5 396v7M383 408.5h7M386.5 405v7M384 400.5h7M387.5 397v7M384 411.5h7M387.5 408v7M384 414.5h7M387.5 411v7M385 398.5h7M388.5 395v7M385 404.5h7M388.5 401v7M385 411.5h7M388.5 408v7M385 412.5h7M388.5 409v7M385 413.5h7M388.5 410v7M385 414.5h7M388.5 411v7M386 405.5h7M389.5 402v7M386 414.5h7M389.5 411v7M387 374.5h7M390.5 371v7M387 399.5h7M390.5 396v7M387 404.5h7M390.5 401v7M387 413.5h7M390.5 410v7M387 414.5h7M390.5 411v7M388 376.5h7M391.5 373v7M388 396.5h7M391.5 393v7M388 407.5h7M391.5 404v7M388 408.5h7M391.5 405v7M388 409.5h7M391.5 406v7M388 411.5h7M391.5 408v7M388 414.5h7M391.5 411v7M389 384.5h7M392.5 381v7M389 397.5h7M392.5 394v7M389 405.5h7M392.5 402v7M389 407.5h7M392.5 404v7M389 408.5h7M392.5 405v7M389 412.5h7M392.5 409v7M389 414.5h7M392.5 411v7M390 396.5h7M393.5 393v7M390 402.5h7M393.5 399v7M390 404.5h7M393.5 401v7M390 405.5h7M393.5 402v7M390 408.5h7M393.5 405v7M390 409.5h7M393.5 406v7M390 413.5h7M393.5 410v7M390 414.5h7M393.5 411v7M391 403.5h7M394.5 400v7M391 410.5h7M394.5 407v7M392 367.5h7M395.5 364v7M392 400.5h7M395.5 397v7M392 402.5h7M395.5 399v7M392 403.5h7M395.5 400v7M392 405.5h7M395.5 402v7M392 407.5h7M395.5 404v7M392 408.5h7M395.5 405v7M392 413.5h7M395.5 410v7M393 400.5h7M396.5 397v7M393 403.5h7M396.5 400v7M393 404.5h7M396.5 401v7M393 406.5h7M396.5 403v7M393 408.5h7M396.5 405v7M393 410.5h7M396.5 407v7M394 381.5h7M397.5 378v7M394 396.5h7M397.5 393v7M394 400.5h7M397.5 397v7M394 407.5h7M397.5 404v7M394 411.5h7M397.5 408v7M394 412.5h7M397.5 409v7M394 413.5h7M397.5 410v7M394 414.5h7M397.5 411v7M395 403.5h7M398.5 400v7M395 408.5h7M398.5 405v7M395 413.5h7M398.5 410v7M395 414.5h7M398.5 411v7M396 403.5h7M399.5 400v7M396 410.5h7M399.5 407v7M396 412.5h7M399.5 409v7M396 414.5h7M399.5 411v7M397 367.5h7M400.5 364v7M397 403.5h7M400.5 400v7M397 406.5h7M400.5 403v7M397 408.5h7M400.5 405v7M397 409.5h7M400.5 406v7M397 411.5h7M400.5 408v7M397 413.5h7M400.5 410v7M397 414.5h7M400.5 411v7M398 403.5h7M401.5 400v7M398 407.5h7M401.5 404v7M398 408.5h7M401.5 405v7M398 412.5h7M401.5 409v7M398 413.5h7M401.5 410v7M399 401.5h7M402.5 398v7M399 403.5h7M402.5 400v7M399 408.5h7M402.5 405v7M399 409.5h7M402.5 406v7M399 410.5h7M402.5 407v7M399 411.5h7M402.5 408v7M399 412.5h7M402.5 409v7M399 413.5h7M402.5 410v7M400 384.5h7M403.5 381v7M400 398.5h7M403.5 395v7M400 402.5h7M403.5 399v7M400 406.5h7M403.5 403v7M400 409.5h7M403.5 406v7M400 410.5h7M403.5 407v7M400 411.5h7M403.5 408v7M400 414.5h7M403.5 411v7M401 373.5h7M404.5 370v7M401 402.5h7M404.5 399v7M401 406.5h7M404.5 403v7M401 410.5h7M404.5 407v7M401 411.5h7M404.5 408v7M401 413.5h7M404.5 410v7M401 414.5h7M404.5 411v7M402 365.5h7M405.5 362v7M402 394.5h7M405.5 391v7M402 399.5h7M405.5 396v7M402 404.5h7M405.5 401v7M402 406.5h7M405.5 403v7M402 410.5h7M405.5 407v7M402 411.5h7M405.5 408v7M402 412.5h7M405.5 409v7M402 414.5h7M405.5 411v7M403 377.5h7M406.5 374v7M403 393.5h7M406.5 390v7M403 401.5h7M406.5 398v7M403 402.5h7M406.5 399v7M403 405.5h7M406.5 402v7M403 406.5h7M406.5 403v7M403 407.5h7M406.5 404v7M403 409.5h7M406.5 406v7M403 411.5h7M406.5 408v7M403 413.5h7M406.5 410v7M403 414.5h7M406.5 411v7M404 366.5h7M407.5 363v7M404 396.5h7M407.5 393v7M404 397.5h7M407.5 394v7M404 408.5h7M407.5 405v7M404 411.5h7M407.5 408v7M404 412.5h7M407.5 409v7M404 413.5h7M407.5 410v7M404 414.5h7M407.5 411v7M405 405.5h7M408.5 402v7M405 407.5h7M408.5 404v7M405 409.5h7M408.5 406v7M405 412.5h7M408.5 409v7M405 414.5h7M408.5 411v7M406 395.5h7M409.5 392v7M406 404.5h7M409.5 401v7M406 407.5h7M409.5 404v7M406 411.5h7M409.5 408v7M406 414.5h7M409.5 411v7M407 394.5h7M410.5 391v7M407 405.5h7M410.5 402v7M407 410.5h7M410.5 407v7M407 412.5h7M410.5 409v7M407 413.5h7M410.5 410v7M407 414.5h7M410.5 411v7M408 402.5h7M411.5 399v7M408 412.5h7M411.5 409v7M408 413.5h7M411.5 410v7M409 398.5h7M412.5 395v7M409 400.5h7M412.5 397v7M409 403.5h7M412.5 400v7M409 405.5h7M412.5 402v7M409 406.5h7M412.5 403v7M409 407.5h7M412.5 404v7M409 408.5h7M412.5 405v7M409 410.5h7M412.5 407v7M409 411.5h7M412.5 408v7M409 412.5h7M412.5 409v7M409 413.5h7M412.5 410v7M409 414.5h7M412.5 411v7M410 385.5h7M413.5 382v7M410 394.5h7M413.5 391v7M410 408.5h7M413.5 405v7M410 411.5h7M413.5 408v7M410 412.5h7M413.5 409v7M410 414.5h7M413.5 411v7M411 403.5h7M414.5 400v7M411 411.5h7M414.5 408v7M411 413.5h7M414.5 410v7M411 414.5h7M414.5 411v7M412 370.5h7M415.5 367v7M412 393.5h7M415.5 390v7M412 403.5h7M415.5 400v7M412 405.5h7M415.5 402v7M412 407.5h7M415.5 404v7M412 413.5h7M415.5 410v7M412 414.5h7M415.5 411v7M413 402.5h7M416.5 399v7M413 404.5h7M416.5 401v7M413 407.5h7M416.5 404v7M413 409.5h7M416.5 406v7M413 410.5h7M416.5 407v7M413 412.5h7M416.5 409v7M413 413.5h7M416.5 410v7M413 414.5h7M416.5 411v7M414 386.5h7M417.5 383v7M414 404.5h7M417.5 401v7M414 405.5h7M417.5 402v7M414 408.5h7M417.5 405v7M414 413.5h7M417.5 410v7M415 372.5h7M418.5 369v7M415 398.5h7M418.5 395v7M415 403.5h7M418.5 400v7M415 405.5h7M418.5 402v7M415 406.5h7M418.5 403v7M415 408.5h7M418.5 405v7M415 411.5h7M418.5 408v7M415 412.5h7M418.5 409v7M415 414.5h7M418.5 411v7M416 403.5h7M419.5 400v7M416 406.5h7M419.5 403v7M416 407.5h7M419.5 404v7M416 409.5h7M419.5 406v7M416 411.5h7M419.5 408v7M416 412.5h7M419.5 409v7M416 414.5h7M419.5 411v7M417 398.5h7M420.5 395v7M417 401.5h7M420.5 398v7M417 408.5h7M420.5 405v7M417 409.5h7M420.5 406v7M417 414.5h7M420.5 411v7M418 397.5h7M421.5 394v7M418 407.5h7M421.5 404v7M418 409.5h7M421.5 406v7M418 414.5h7M421.5 411v7M419 372.5h7M422.5 369v7M419 384.5h7M422.5 381v7M419 406.5h7M422.5 403v7M419 411.5h7M422.5 408v7M419 414.5h7M422.5 411v7M420 405.5h7M423.5 402v7M420 411.5h7M423.5 408v7M420 413.5h7M423.5 410v7M421 401.5h7M424.5 398v7M421 402.5h7M424.5 399v7M421 409.5h7M424.5 406v7M421 410.5h7M424.5 407v7M421 412.5h7M424.5 409v7M421 413.5h7M424.5 410v7M421 414.5h7M424.5 411v7M421 415.5h7M424.5 412v7M422 404.5h7M425.5 401v7M422 407.5h7M425.5 404v7M422 408.5h7M425.5 405v7M422 413.5h7M425.5 410v7M422 414.5h7M425.5 411v7M423 408.5h7M426.5 405v7M423 411.5h7M426.5 408v7M423 414.5h7M426.5 411v7M423 415.5h7M426.5 412v7M424 372.5h7M427.5 369v7M424 400.5h7M427.5 397v7M424 402.5h7M427.5 399v7M424 403.5h7M427.5 400v7M424 413.5h7M427.5 410v7M424 414.5h7M427.5 411v7M425 406.5h7M428.5 403v7M425 407.5h7M428.5 404v7M425 409.5h7M428.5 406v7M425 413.5h7M428.5 410v7M425 414.5h7M428.5 411v7M426 368.5h7M429.5 365v7M426 384.5h7M429.5 381v7M426 402.5h7M429.5 399v7M426 403.5h7M429.5 400v7M426 410.5h7M429.5 407v7M426 414.5h7M429.5 411v7M426 415.5h7M429.5 412v7M427 409.5h7M430.5 406v7M427 410.5h7M430.5 407v7M427 412.5h7M430.5 409v7M427 413.5h7M430.5 410v7M428 374.5h7M431.5 371v7M428 400.5h7M431.5 397v7M428 401.5h7M431.5 398v7M428 407.5h7M431.5 404v7M428 408.5h7M431.5 405v7M428 409.5h7M431.5 406v7M428 410.5h7M431.5 407v7M428 412.5h7M431.5 409v7M428 414.5h7M431.5 411v7M429 392.5h7M432.5 389v7M429 398.5h7M432.5 395v7M429 399.5h7M432.5 396v7M429 403.5h7M432.5 400v7M429 410.5h7M432.5 407v7M429 412.5h7M432.5 409v7M429 413.5h7M432.5 410v7M429 414.5h7M432.5 411v7M430 369.5h7M433.5 366v7M430 377.5h7M433.5 374v7M430 412.5h7M433.5 409v7M430 413.5h7M433.5 410v7M430 414.5h7M433.5 411v7M430 415.5h7M433.5 412v7M431 394.5h7M434.5 391v7M431 407.5h7M434.5 404v7M431 411.5h7M434.5 408v7M431 413.5h7M434.5 410v7M431 414.5h7M434.5 411v7M431 415.5h7M434.5 412v7M432 399.5h7M435.5 396v7M432 410.5h7M435.5 407v7M432 411.5h7M435.5 408v7M432 414.5h7M435.5 411v7M433 402.5h7M436.5 399v7M433 403.5h7M436.5 400v7M433 411.5h7M436.5 408v7M433 412.5h7M436.5 409v7M433 414.5h7M436.5 411v7M433 415.5h7M436.5 412v7M434 395.5h7M437.5 392v7M434 405.5h7M437.5 402v7M434 406.5h7M437.5 403v7M434 409.5h7M437.5 406v7M434 412.5h7M437.5 409v7M435 375.5h7M438.5 372v7M435 406.5h7M438.5 403v7M435 409.5h7M438.5 406v7M435 411.5h7M438.5 408v7M435 412.5h7M438.5 409v7M435 414.5h7M438.5 411v7M435 415.5h7M438.5 412v7M436 407.5h7M439.5 404v7M436 414.5h7M439.5 411v7M436 415.5h7M439.5 412v7M437 405.5h7M440.5 402v7M437 408.5h7M440.5 405v7M437 409.5h7M440.5 406v7M437 411.5h7M440.5 408v7M437 412.5h7M440.5 409v7M437 413.5h7M440.5 410v7M437 414.5h7M440.5 411v7M438 413.5h7M441.5 410v7M438 414.5h7M441.5 411v7M439 397.5h7M442.5 394v7M439 406.5h7M442.5 403v7M439 408.5h7M442.5 405v7M439 411.5h7M442.5 408v7M439 415.5h7M442.5 412v7M440 406.5h7M443.5 403v7M440 410.5h7M443.5 407v7M440 412.5h7M443.5 409v7M440 414.5h7M443.5 411v7M440 415.5h7M443.5 412v7M441 373.5h7M444.5 370v7M441 377.5h7M444.5 374v7M441 380.5h7M444.5 377v7M441 387.5h7M444.5 384v7M441 403.5h7M444.5 400v7M441 408.5h7M444.5 405v7M441 409.5h7M444.5 406v7M441 413.5h7M444.5 410v7M441 414.5h7M444.5 411v7M441 415.5h7M444.5 412v7M442 397.5h7M445.5 394v7M442 407.5h7M445.5 404v7M442 409.5h7M445.5 406v7M442 411.5h7M445.5 408v7M442 412.5h7M445.5 409v7M442 414.5h7M445.5 411v7M443 402.5h7M446.5 399v7M443 403.5h7M446.5 400v7M443 407.5h7M446.5 404v7M443 411.5h7M446.5 408v7M443 412.5h7M446.5 409v7M443 413.5h7M446.5 410v7M443 414.5h7M446.5 411v7M444 391.5h7M447.5 388v7M444 404.5h7M447.5 401v7M444 411.5h7M447.5 408v7M444 413.5h7M447.5 410v7M444 415.5h7M447.5 412v7M445 392.5h7M448.5 389v7M445 406.5h7M448.5 403v7M445 413.5h7M448.5 410v7M445 414.5h7M448.5 411v7M445 415.5h7M448.5 412v7M446 406.5h7M449.5 403v7M446 408.5h7M449.5 405v7M446 409.5h7M449.5 406v7M446 413.5h7M449.5 410v7M446 414.5h7M449.5 411v7M446 415.5h7M449.5 412v7M447 405.5h7M450.5 402v7M447 407.5h7M450.5 404v7M447 408.5h7M450.5 405v7M447 409.5h7M450.5 406v7M447 411.5h7M450.5 408v7M447 413.5h7M450.5 410v7M447 414.5h7M450.5 411v7M448 372.5h7M451.5 369v7M448 406.5h7M451.5 403v7M448 413.5h7M451.5 410v7M448 415.5h7M451.5 412v7M449 400.5h7M452.5 397v7M449 401.5h7M452.5 398v7M449 405.5h7M452.5 402v7M449 412.5h7M452.5 409v7M449 414.5h7M452.5 411v7M449 415.5h7M452.5 412v7M450 392.5h7M453.5 389v7M450 400.5h7M453.5 397v7M450 402.5h7M453.5 399v7M450 414.5h7M453.5 411v7M450 415.5h7M453.5 412v7M451 403.5h7M454.5 400v7M451 404.5h7M454.5 401v7M451 406.5h7M454.5 403v7M451 407.5h7M454.5 404v7M451 409.5h7M454.5 406v7M451 414.5h7M454.5 411v7M452 405.5h7M455.5 402v7M452 407.5h7M455.5 404v7M452 409.5h7M455.5 406v7M452 411.5h7M455.5 408v7M452 413.5h7M455.5 410v7M452 414.5h7M455.5 411v7M453 408.5h7M456.5 405v7M453 410.5h7M456.5 407v7M453 411.5h7M456.5 408v7M453 413.5h7M456.5 410v7M453 415.5h7M456.5 412v7M454 381.5h7M457.5 378v7M454 410.5h7M457.5 407v7M454 411.5h7M457.5 408v7M454 413.5h7M457.5 410v7M454 414.5h7M457.5 411v7M454 415.5h7M457.5 412v7M455 398.5h7M458.5 395v7M455 409.5h7M458.5 406v7M455 414.5h7M458.5 411v7M455 415.5h7M458.5 412v7M456 390.5h7M459.5 387v7M456 406.5h7M459.5 403v7M456 407.5h7M459.5 404v7M456 410.5h7M459.5 407v7M456 413.5h7M459.5 410v7M456 415.5h7M459.5 412v7M457 405.5h7M460.5 402v7M457 407.5h7M460.5 404v7M457 410.5h7M460.5 407v7M457 411.5h7M460.5 408v7M457 412.5h7M460.5 409v7M457 413.5h7M460.5 410v7M457 415.5h7M460.5 412v7M458 400.5h7M461.5 397v7M458 408.5h7M461.5 405v7M458 409.5h7M461.5 406v7M458 414.5h7M461.5 411v7M458 415.5h7M461.5 412v7M459 374.5h7M462.5 371v7M459 386.5h7M462.5 383v7M459 404.5h7M462.5 401v7M459 406.5h7M462.5 403v7M459 412.5h7M462.5 409v7M459 414.5h7M462.5 411v7M460 376.5h7M463.5 373v7M460 393.5h7M463.5 390v7M460 407.5h7M463.5 404v7M460 408.5h7M463.5 405v7M460 411.5h7M463.5 408v7M460 414.5h7M463.5 411v7M460 415.5h7M463.5 412v7M461 404.5h7M464.5 401v7M461 411.5h7M464.5 408v7M461 413.5h7M464.5 410v7M461 414.5h7M464.5 411v7M461 415.5h7M464.5 412v7M462 404.5h7M465.5 401v7M462 406.5h7M465.5 403v7M462 407.5h7M465.5 404v7M462 411.5h7M465.5 408v7M462 412.5h7M465.5 409v7M462 414.5h7M465.5 411v7M462 415.5h7M465.5 412v7M463 378.5h7M466.5 375v7M463 382.5h7M466.5 379v7M463 414.5h7M466.5 411v7M463 415.5h7M466.5 412v7M464 380.5h7M467.5 377v7M464 397.5h7M467.5 394v7M464 403.5h7M467.5 400v7M464 406.5h7M467.5 403v7M464 410.5h7M467.5 407v7M464 412.5h7M467.5 409v7M464 413.5h7M467.5 410v7M464 414.5h7M467.5 411v7M464 415.5h7M467.5 412v7M465 405.5h7M468.5 402v7M465 410.5h7M468.5 407v7M465 412.5h7M468.5 409v7M465 413.5h7M468.5 410v7M465 414.5h7M468.5 411v7M465 415.5h7M468.5 412v7M466 403.5h7M469.5 400v7M466 405.5h7M469.5 402v7M466 407.5h7M469.5 404v7M466 409.5h7M469.5 406v7M466 411.5h7M469.5 408v7M466 412.5h7M469.5 409v7M466 413.5h7M469.5 410v7M466 414.5h7M469.5 411v7M466 415.5h7M469.5 412v7M467 406.5h7M470.5 403v7M467 408.5h7M470.5 405v7M467 409.5h7M470.5 406v7M467 412.5h7M470.5 409v7M467 414.5h7M470.5 411v7M467 415.5h7M470.5 412v7M468 396.5h7M471.5 393v7M468 401.5h7M471.5 398v7M468 402.5h7M471.5 399v7M468 405.5h7M471.5 402v7M468 407.5h7M471.5 404v7M468 409.5h7M471.5 406v7M468 413.5h7M471.5 410v7M468 414.5h7M471.5 411v7M468 415.5h7M471.5 412v7M469 405.5h7M472.5 402v7M469 410.5h7M472.5 407v7M469 411.5h7M472.5 408v7M469 413.5h7M472.5 410v7M469 414.5h7M472.5 411v7M469 415.5h7M472.5 412v7M470 383.5h7M473.5 380v7M470 404.5h7M473.5 401v7M470 408.5h7M473.5 405v7M470 411.5h7M473.5 408v7M470 413.5h7M473.5 410v7M470 415.5h7M473.5 412v7M471 406.5h7M474.5 403v7M471 411.5h7M474.5 408v7M471 414.5h7M474.5 411v7M471 415.5h7M474.5 412v7M472 414.5h7M475.5 411v7M472 415.5h7M475.5 412v7M473 407.5h7M476.5 404v7M473 408.5h7M476.5 405v7M473 412.5h7M476.5 409v7M473 413.5h7M476.5 410v7M473 414.5h7M476.5 411v7M473 415.5h7M476.5 412v7M474 408.5h7M477.5 405v7M474 410.5h7M477.5 407v7M474 412.5h7M477.5 409v7M474 414.5h7M477.5 411v7M474 415.5h7M477.5 412v7M475 382.5h7M478.5 379v7M475 411.5h7M478.5 408v7M475 415.5h7M478.5 412v7M476 405.5h7M479.5 402v7M476 407.5h7M479.5 404v7M476 413.5h7M479.5 410v7M476 414.5h7M479.5 411v7M476 415.5h7M479.5 412v7M477 378.5h7M480.5 375v7M477 401.5h7M480.5 398v7M477 403.5h7M480.5 400v7M477 405.5h7M480.5 402v7M477 408.5h7M480.5 405v7M477 410.5h7M480.5 407v7M477 412.5h7M480.5 409v7M477 413.5h7M480.5 410v7M477 414.5h7M480.5 411v7M477 415.5h7M480.5 412v7M478 403.5h7M481.5 400v7M478 407.5h7M481.5 404v7M478 412.5h7M481.5 409v7M478 415.5h7M481.5 412v7M479 400.5h7M482.5 397v7M479 404.5h7M482.5 401v7M479 407.5h7M482.5 404v7M479 411.5h7M482.5 408v7M479 412.5h7M482.5 409v7M479 413.5h7M482.5 410v7M479 414.5h7M482.5 411v7M479 415.5h7M482.5 412v7M480 384.5h7M483.5 381v7M480 391.5h7M483.5 388v7M480 395.5h7M483.5 392v7M480 412.5h7M483.5 409v7M480 413.5h7M483.5 410v7M480 415.5h7M483.5 412v7M481 394.5h7M484.5 391v7M481 403.5h7M484.5 400v7M481 404.5h7M484.5 401v7M481 414.5h7M484.5 411v7M481 415.5h7M484.5 412v7M482 398.5h7M485.5 395v7M482 411.5h7M485.5 408v7M482 412.5h7M485.5 409v7M482 414.5h7M485.5 411v7M482 415.5h7M485.5 412v7M483 404.5h7M486.5 401v7M483 406.5h7M486.5 403v7M483 407.5h7M486.5 404v7M483 409.5h7M486.5 406v7M483 413.5h7M486.5 410v7M483 414.5h7M486.5 411v7M483 415.5h7M486.5 412v7M484 409.5h7M487.5 406v7M484 410.5h7M487.5 407v7M484 415.5h7M487.5 412v7M485 384.5h7M488.5 381v7M485 408.5h7M488.5 405v7M485 411.5h7M488.5 408v7M485 412.5h7M488.5 409v7M485 414.5h7M488.5 411v7M485 415.5h7M488.5 412v7M486 397.5h7M489.5 394v7M486 411.5h7M489.5 408v7M486 413.5h7M489.5 410v7M486 415.5h7M489.5 412v7M487 413.5h7M490.5 410v7M487 415.5h7M490.5 412v7M488 404.5h7M491.5 401v7M488 410.5h7M491.5 407v7M488 412.5h7M491.5 409v7M488 413.5h7M491.5 410v7M488 414.5h7M491.5 411v7M488 415.5h7M491.5 412v7M489 411.5h7M492.5 408v7M489 412.5h7M492.5 409v7M489 414.5h7M492.5 411v7M489 415.5h7M492.5 412v7M490 409.5h7M493.5 406v7M490 412.5h7M493.5 409v7M490 413.5h7M493.5 410v7M490 414.5h7M493.5 411v7M490 415.5h7M493.5 412v7M491 392.5h7M494.5 389v7M491 401.5h7M494.5 398v7M491 406.5h7M494.5 403v7M491 412.5h7M494.5 409v7M491 413.5h7M494.5 410v7M491 414.5h7M494.5 411v7M491 415.5h7M494.5 412v7M492 406.5h7M495.5 403v7M492 408.5h7M495.5 405v7M492 410.5h7M495.5 407v7M492 411.5h7M495.5 408v7M492 414.5h7M495.5 411v7M492 415.5h7M495.5 412v7M493 396.5h7M496.5 393v7M493 402.5h7M496.5 399v7M493 409.5h7M496.5 406v7M493 412.5h7M496.5 409v7M493 413.5h7M496.5 410v7M493 414.5h7M496.5 411v7M493 415.5h7M496.5 412v7M494 408.5h7M497.5 405v7M494 409.5h7M497.5 406v7M494 410.5h7M497.5 407v7M494 412.5h7M497.5 409v7M494 413.5h7M497.5 410v7M494 415.5h7M497.5 412v7M495 408.5h7M498.5 405v7M495 409.5h7M498.5 406v7M495 410.5h7M498.5 407v7M495 412.5h7M498.5 409v7M495 414.5h7M498.5 411v7M495 415.5h7M498.5 412v7M496 406.5h7M499.5 403v7M496 407.5h7M499.5 404v7M496 411.5h7M499.5 408v7M496 412.5h7M499.5 409v7M496 413.5h7M499.5 410v7M496 414.5h7M499.5 411v7M496 415.5h7M499.5 412v7M497 401.5h7M500.5 398v7M497 405.5h7M500.5 402v7M497 409.5h7M500.5 406v7M497 410.5h7M500.5 407v7M497 415.5h7M500.5 412v7M498 384.5h7M501.5 381v7M498 407.5h7M501.5 404v7M498 409.5h7M501.5 406v7M498 410.5h7M501.5 407v7M498 415.5h7M501.5 412v7M499 407.5h7M502.5 404v7M499 412.5h7M502.5 409v7M499 415.5h7M502.5 412v7M500 405.5h7M503.5 402v7M500 408.5h7M503.5 405v7M500 410.5h7M503.5 407v7M500 411.5h7M503.5 408v7M500 414.5h7M503.5 411v7M500 415.5h7M503.5 412v7M501 403.5h7M504.5 400v7M501 414.5h7M504.5 411v7M501 415.5h7M504.5 412v7M502 386.5h7M505.5 383v7M502 407.5h7M505.5 404v7M502 408.5h7M505.5 405v7M502 414.5h7M505.5 411v7M502 415.5h7M505.5 412v7M503 395.5h7M506.5 392v7M503 401.5h7M506.5 398v7M503 406.5h7M506.5 403v7M503 408.5h7M506.5 405v7M503 412.5h7M506.5 409v7M503 413.5h7M506.5 410v7M503 414.5h7M506.5 411v7M503 415.5h7M506.5 412v7M504 415.5h7M507.5 412v7M505 404.5h7M508.5 401v7M505 414.5h7M508.5 411v7M505 415.5h7M508.5 412v7M506 405.5h7M509.5 402v7M506 412.5h7M509.5 409v7M506 413.5h7M509.5 410v7M506 414.5h7M509.5 411v7M506 415.5h7M509.5 412v7M507 408.5h7M510.5 405v7M507 411.5h7M510.5 408v7M507 412.5h7M510.5 409v7M507 413.5h7M510.5 410v7M507 414.5h7M510.5 411v7M507 415.5h7M510.5 412v7M508 407.5h7M511.5 404v7M508 408.5h7M511.5 405v7M508 413.5h7M511.5 410v7M508 414.5h7M511.5 411v7M508 415.5h7M511.5 412v7M509 387.5h7M512.5 384v7M509 409.5h7M512.5 406v7M509 410.5h7M512.5 407v7M509 411.5h7M512.5 408v7M509 413.5h7M512.5 410v7M509 415.5h7M512.5 412v7M510 408.5h7M513.5 405v7M510 410.5h7M513.5 407v7M510 411.5h7M513.5 408v7M510 415.5h7M513.5 412v7M511 406.5h7M514.5 403v7M511 408.5h7M514.5 405v7M511 409.5h7M514.5 406v7M511 413.5h7M514.5 410v7M511 415.5h7M514.5 412v7M512 406.5h7M515.5 403v7M512 410.5h7M515.5 407v7M512 411.5h7M515.5 408v7M512 412.5h7M515.5 409v7M512 414.5h7M515.5 411v7M512 415.5h7M515.5 412v7M513 401.5h7M516.5 398v7M513 411.5h7M516.5 408v7M513 413.5h7M516.5 410v7M513 414.5h7M516.5 411v7M513 415.5h7M516.5 412v7M514 404.5h7M517.5 401v7M514 407.5h7M517.5 404v7M514 412.5h7M517.5 409v7M514 413.5h7M517.5 410v7M514 414.5h7M517.5 411v7M514 415.5h7M517.5 412v7M515 385.5h7M518.5 382v7M515 404.5h7M518.5 401v7M515 407.5h7M518.5 404v7M515 408.5h7M518.5 405v7M515 411.5h7M518.5 408v7M515 412.5h7M518.5 409v7M515 413.5h7M518.5 410v7M515 414.5h7M518.5 411v7M515 415.5h7M518.5 412v7M516 407.5h7M519.5 404v7M516 412.5h7M519.5 409v7M516 414.5h7M519.5 411v7M516 415.5h7M519.5 412v7M517 410.5h7M520.5 407v7M517 414.5h7M520.5 411v7M517 415.5h7M520.5 412v7M518 389.5h7M521.5 386v7M518 407.5h7M521.5 404v7M518 409.5h7M521.5 406v7M518 410.5h7M521.5 407v7M518 413.5h7M521.5 410v7M519 387.5h7M522.5 384v7M519 396.5h7M522.5 393v7M519 406.5h7M522.5 403v7M519 407.5h7M522.5 404v7M519 408.5h7M522.5 405v7M519 410.5h7M522.5 407v7M519 411.5h7M522.5 408v7M519 412.5h7M522.5 409v7M519 413.5h7M522.5 410v7M519 415.5h7M522.5 412v7M520 382.5h7M523.5 379v7M520 392.5h7M523.5 389v7M520 406.5h7M523.5 403v7M520 407.5h7M523.5 404v7M520 409.5h7M523.5 406v7M520 414.5h7M523.5 411v7M520 415.5h7M523.5 412v7M521 378.5h7M524.5 375v7M521 407.5h7M524.5 404v7M521 413.5h7M524.5 410v7M521 414.5h7M524.5 411v7M522 383.5h7M525.5 380v7M522 407.5h7M525.5 404v7M522 408.5h7M525.5 405v7M523 394.5h7M526.5 391v7M523 407.5h7M526.5 404v7M523 410.5h7M526.5 407v7M523 411.5h7M526.5 408v7M523 414.5h7M526.5 411v7M523 415.5h7M526.5 412v7M524 384.5h7M527.5 381v7M524 406.5h7M527.5 403v7M524 408.5h7M527.5 405v7M524 414.5h7M527.5 411v7M524 415.5h7M527.5 412v7M525 395.5h7M528.5 392v7M525 413.5h7M528.5 410v7M525 414.5h7M528.5 411v7M525 415.5h7M528.5 412v7M526 381.5h7M529.5 378v7M526 385.5h7M529.5 382v7M526 407.5h7M529.5 404v7M526 410.5h7M529.5 407v7M526 412.5h7M529.5 409v7M526 413.5h7M529.5 410v7M526 414.5h7M529.5 411v7M526 415.5h7M529.5 412v7M527 387.5h7M530.5 384v7M527 406.5h7M530.5 403v7M527 408.5h7M530.5 405v7M527 411.5h7M530.5 408v7M527 412.5h7M530.5 409v7M527 413.5h7M530.5 410v7M527 415.5h7M530.5 412v7M528 399.5h7M531.5 396v7M528 409.5h7M531.5 406v7M528 410.5h7M531.5 407v7M528 413.5h7M531.5 410v7M528 415.5h7M531.5 412v7M529 383.5h7M532.5 380v7M529 409.5h7M532.5 406v7M529 410.5h7M532.5 407v7M529 415.5h7M532.5 412v7M530 395.5h7M533.5 392v7M530 414.5h7M533.5 411v7M530 415.5h7M533.5 412v7M531 389.5h7M534.5 386v7M531 398.5h7M534.5 395v7M531 402.5h7M534.5 399v7M531 407.5h7M534.5 404v7M531 409.5h7M534.5 406v7M531 412.5h7M534.5 409v7M531 414.5h7M534.5 411v7M531 415.5h7M534.5 412v7M532 398.5h7M535.5 395v7M532 400.5h7M535.5 397v7M532 411.5h7M535.5 408v7M532 413.5h7M535.5 410v7M532 414.5h7M535.5 411v7M532 415.5h7M535.5 412v7M533 406.5h7M536.5 403v7M533 409.5h7M536.5 406v7M533 412.5h7M536.5 409v7M533 413.5h7M536.5 410v7M533 415.5h7M536.5 412v7M534 407.5h7M537.5 404v7M534 413.5h7M537.5 410v7M534 414.5h7M537.5 411v7M534 415.5h7M537.5 412v7M535 411.5h7M538.5 408v7M535 413.5h7M538.5 410v7M535 415.5h7M538.5 412v7M536 401.5h7M539.5 398v7M536 412.5h7M539.5 409v7M536 414.5h7M539.5 411v7M536 416.5h7M539.5 413v7M537 395.5h7M540.5 392v7M537 408.5h7M540.5 405v7M537 410.5h7M540.5 407v7M537 413.5h7M540.5 410v7M537 415.5h7M540.5 412v7M537 416.5h7M540.5 413v7M538 409.5h7M541.5 406v7M538 411.5h7M541.5 408v7M538 414.5h7M541.5 411v7M538 415.5h7M541.5 412v7M538 416.5h7M541.5 413v7M539 383.5h7M542.5 380v7M539 407.5h7M542.5 404v7M539 409.5h7M542.5 406v7M539 410.5h7M542.5 407v7M539 411.5h7M542.5 408v7M539 412.5h7M542.5 409v7M539 414.5h7M542.5 411v7M539 415.5h7M542.5 412v7M539 416.5h7M542.5 413v7M540 408.5h7M543.5 405v7M540 409.5h7M543.5 406v7M540 414.5h7M543.5 411v7M540 415.5h7M543.5 412v7M541 407.5h7M544.5 404v7M541 412.5h7M544.5 409v7M541 414.5h7M544.5 411v7M541 415.5h7M544.5 412v7M541 416.5h7M544.5 413v7M542 396.5h7M545.5 393v7M542 408.5h7M545.5 405v7M542 409.5h7M545.5 406v7M542 413.5h7M545.5 410v7M542 414.5h7M545.5 411v7M542 415.5h7M545.5 412v7M542 416.5h7M545.5 413v7M543 404.5h7M546.5 401v7M543 409.5h7M546.5 406v7M543 412.5h7M546.5 409v7M543 413.5h7M546.5 410v7M543 414.5h7M546.5 411v7M543 416.5h7M546.5 413v7M544 399.5h7M547.5 396v7M544 404.5h7M547.5 401v7M544 409.5h7M547.5 406v7M544 410.5h7M547.5 407v7M544 413.5h7M547.5 410v7M544 415.5h7M547.5 412v7M544 416.5h7M547.5 413v7M545 409.5h7M548.5 406v7M545 412.5h7M548.5 409v7M545 415.5h7M548.5 412v7M545 416.5h7M548.5 413v7M546 406.5h7M549.5 403v7M546 408.5h7M549.5 405v7M546 410.5h7M549.5 407v7M546 411.5h7M549.5 408v7M546 413.5h7M549.5 410v7M546 415.5h7M549.5 412v7M547 410.5h7M550.5 407v7M547 414.5h7M550.5 411v7M547 415.5h7M550.5 412v7M547 416.5h7M550.5 413v7M548 390.5h7M551.5 387v7M548 406.5h7M551.5 403v7M548 412.5h7M551.5 409v7M548 414.5h7M551.5 411v7M548 416.5h7M551.5 413v7M549 409.5h7M552.5 406v7M549 410.5h7M552.5 407v7M549 412.5h7M552.5 409v7M549 413.5h7M552.5 410v7M549 415.5h7M552.5 412v7M549 416.5h7M552.5 413v7M550 405.5h7M553.5 402v7M550 407.5h7M553.5 404v7M550 408.5h7M553.5 405v7M550 410.5h7M553.5 407v7M550 414.5h7M553.5 411v7M550 415.5h7M553.5 412v7M550 416.5h7M553.5 413v7M551 412.5h7M554.5 409v7M551 413.5h7M554.5 410v7M551 414.5h7M554.5 411v7M551 415.5h7M554.5 412v7M551 416.5h7M554.5 413v7M552 383.5h7M555.5 380v7M552 410.5h7M555.5 407v7M552 415.5h7M555.5 412v7M552 416.5h7M555.5 413v7M553 395.5h7M556.5 392v7M553 407.5h7M556.5 404v7M553 412.5h7M556.5 409v7M553 415.5h7M556.5 412v7M553 416.5h7M556.5 413v7M554 391.5h7M557.5 388v7M554 403.5h7M557.5 400v7M554 414.5h7M557.5 411v7M554 415.5h7M557.5 412v7M554 416.5h7M557.5 413v7M555 395.5h7M558.5 392v7M555 408.5h7M558.5 405v7M555 410.5h7M558.5 407v7M555 412.5h7M558.5 409v7M555 413.5h7M558.5 410v7M555 414.5h7M558.5 411v7M555 416.5h7M558.5 413v7M556 383.5h7M559.5 380v7M556 400.5h7M559.5 397v7M556 402.5h7M559.5 399v7M556 410.5h7M559.5 407v7M556 415.5h7M559.5 412v7M557 408.5h7M560.5 405v7M557 410.5h7M560.5 407v7M557 412.5h7M560.5 409v7M557 413.5h7M560.5 410v7M557 414.5h7M560.5 411v7M557 415.5h7M560.5 412v7M557 416.5h7M560.5 413v7M558 397.5h7M561.5 394v7M558 407.5h7M561.5 404v7M558 412.5h7M561.5 409v7M558 413.5h7M561.5 410v7M558 416.5h7M561.5 413v7M559 384.5h7M562.5 381v7M559 407.5h7M562.5 404v7M559 409.5h7M562.5 406v7M559 415.5h7M562.5 412v7M560 407.5h7M563.5 404v7M560 410.5h7M563.5 407v7M560 413.5h7M563.5 410v7M560 414.5h7M563.5 411v7M560 415.5h7M563.5 412v7M560 416.5h7M563.5 413v7M561 410.5h7M564.5 407v7M561 411.5h7M564.5 408v7M561 413.5h7M564.5 410v7M561 416.5h7M564.5 413v7M562 409.5h7M565.5 406v7M562 410.5h7M565.5 407v7M562 411.5h7M565.5 408v7M562 414.5h7M565.5 411v7M562 415.5h7M565.5 412v7M562 416.5h7M565.5 413v7M563 410.5h7M566.5 407v7M563 412.5h7M566.5 409v7M563 413.5h7M566.5 410v7M563 415.5h7M566.5 412v7M564 404.5h7M567.5 401v7M564 409.5h7M567.5 406v7M564 413.5h7M567.5 410v7M564 414.5h7M567.5 411v7M564 415.5h7M567.5 412v7M564 416.5h7M567.5 413v7M565 409.5h7M568.5 406v7M565 410.5h7M568.5 407v7M565 414.5h7M568.5 411v7M565 416.5h7M568.5 413v7M566 407.5h7M569.5 404v7M566 409.5h7M569.5 406v7M566 411.5h7M569.5 408v7M566 414.5h7M569.5 411v7M566 415.5h7M569.5 412v7M566 416.5h7M569.5 413v7M567 385.5h7M570.5 382v7M567 403.5h7M570.5 400v7M567 413.5h7M570.5 410v7M567 415.5h7M570.5 412v7M567 416.5h7M570.5 413v7M568 410.5h7M571.5 407v7M568 414.5h7M571.5 411v7M568 415.5h7M571.5 412v7M568 416.5h7M571.5 413v7M569 384.5h7M572.5 381v7M569 389.5h7M572.5 386v7M569 406.5h7M572.5 403v7M569 407.5h7M572.5 404v7M569 408.5h7M572.5 405v7M569 411.5h7M572.5 408v7M569 414.5h7M572.5 411v7M570 393.5h7M573.5 390v7M570 414.5h7M573.5 411v7M570 415.5h7M573.5 412v7M570 416.5h7M573.5 413v7M571 399.5h7M574.5 396v7M571 406.5h7M574.5 403v7M571 409.5h7M574.5 406v7M571 410.5h7M574.5 407v7M571 411.5h7M574.5 408v7M571 413.5h7M574.5 410v7M571 415.5h7M574.5 412v7M571 416.5h7M574.5 413v7M572 409.5h7M575.5 406v7M572 412.5h7M575.5 409v7M572 415.5h7M575.5 412v7M573 402.5h7M576.5 399v7M573 408.5h7M576.5 405v7M573 413.5h7M576.5 410v7M573 416.5h7M576.5 413v7M574 384.5h7M577.5 381v7M574 408.5h7M577.5 405v7M574 409.5h7M577.5 406v7M574 412.5h7M577.5 409v7M574 414.5h7M577.5 411v7M574 415.5h7M577.5 412v7M574 416.5h7M577.5 413v7M575 406.5h7M578.5 403v7M575 409.5h7M578.5 406v7M575 410.5h7M578.5 407v7M575 413.5h7M578.5 410v7M575 414.5h7M578.5 411v7M575 415.5h7M578.5 412v7M575 416.5h7M578.5 413v7M576 394.5h7M579.5 391v7M576 408.5h7M579.5 405v7M576 410.5h7M579.5 407v7M576 411.5h7M579.5 408v7M576 415.5h7M579.5 412v7M576 416.5h7M579.5 413v7M577 394.5h7M580.5 391v7M577 407.5h7M580.5 404v7M577 410.5h7M580.5 407v7M577 411.5h7M580.5 408v7M577 414.5h7M580.5 411v7M577 415.5h7M580.5 412v7M577 416.5h7M580.5 413v7M578 397.5h7M581.5 394v7M578 412.5h7M581.5 409v7M578 416.5h7M581.5 413v7M579 407.5h7M582.5 404v7M579 409.5h7M582.5 406v7M579 412.5h7M582.5 409v7M579 414.5h7M582.5 411v7M579 415.5h7M582.5 412v7M580 389.5h7M583.5 386v7M580 398.5h7M583.5 395v7M580 400.5h7M583.5 397v7M580 408.5h7M583.5 405v7M580 409.5h7M583.5 406v7M580 410.5h7M583.5 407v7M580 411.5h7M583.5 408v7M580 414.5h7M583.5 411v7M580 415.5h7M583.5 412v7M581 406.5h7M584.5 403v7M581 409.5h7M584.5 406v7M581 411.5h7M584.5 408v7M581 413.5h7M584.5 410v7M581 414.5h7M584.5 411v7M581 416.5h7M584.5 413v7M582 401.5h7M585.5 398v7M582 408.5h7M585.5 405v7M582 413.5h7M585.5 410v7M582 414.5h7M585.5 411v7M582 415.5h7M585.5 412v7M582 416.5h7M585.5 413v7M583 397.5h7M586.5 394v7M583 413.5h7M586.5 410v7M583 415.5h7M586.5 412v7M583 416.5h7M586.5 413v7M584 388.5h7M587.5 385v7M584 409.5h7M587.5 406v7M584 410.5h7M587.5 407v7M584 413.5h7M587.5 410v7M584 415.5h7M587.5 412v7M584 416.5h7M587.5 413v7M585 409.5h7M588.5 406v7M585 410.5h7M588.5 407v7M585 415.5h7M588.5 412v7M586 397.5h7M589.5 394v7M586 407.5h7M589.5 404v7M586 409.5h7M589.5 406v7M586 411.5h7M589.5 408v7M586 413.5h7M589.5 410v7M586 415.5h7M589.5 412v7M586 416.5h7M589.5 413v7M587 386.5h7M590.5 383v7M587 407.5h7M590.5 404v7M587 412.5h7M590.5 409v7M587 413.5h7M590.5 410v7M587 414.5h7M590.5 411v7M588 409.5h7M591.5 406v7M588 410.5h7M591.5 407v7M588 412.5h7M591.5 409v7M588 416.5h7M591.5 413v7M589 407.5h7M592.5 404v7M589 409.5h7M592.5 406v7M589 411.5h7M592.5 408v7M589 415.5h7M592.5 412v7M589 416.5h7M592.5 413v7M590 394.5h7M593.5 391v7M590 408.5h7M593.5 405v7M590 409.5h7M593.5 406v7M590 410.5h7M593.5 407v7M590 414.5h7M593.5 411v7M590 415.5h7M593.5 412v7M591 385.5h7M594.5 382v7M591 405.5h7M594.5 402v7M591 412.5h7M594.5 409v7M591 414.5h7M594.5 411v7M591 415.5h7M594.5 412v7M591 416.5h7M594.5 413v7M592 402.5h7M595.5 399v7M592 404.5h7M595.5 401v7M592 410.5h7M595.5 407v7M592 413.5h7M595.5 410v7M592 414.5h7M595.5 411v7M592 415.5h7M595.5 412v7M592 416.5h7M595.5 413v7M593 387.5h7M596.5 384v7M593 401.5h7M596.5 398v7M593 411.5h7M596.5 408v7M593 414.5h7M596.5 411v7M593 415.5h7M596.5 412v7M593 416.5h7M596.5 413v7M594 405.5h7M597.5 402v7M594 411.5h7M597.5 408v7M594 414.5h7M597.5 411v7M594 415.5h7M597.5 412v7M594 416.5h7M597.5 413v7M595 406.5h7M598.5 403v7M595 409.5h7M598.5 406v7M595 410.5h7M598.5 407v7M596 386.5h7M599.5 383v7M596 407.5h7M599.5 404v7M596 413.5h7M599.5 410v7M596 414.5h7M599.5 411v7M596 416.5h7M599.5 413v7M597 390.5h7M600.5 387v7M597 410.5h7M600.5 407v7M597 413.5h7M600.5 410v7M597 414.5h7M600.5 411v7M597 415.5h7M600.5 412v7M597 416.5h7M600.5 413v7M598 407.5h7M601.5 404v7M598 415.5h7M601.5 412v7M598 416.5h7M601.5 413v7M599 385.5h7M602.5 382v7M599 405.5h7M602.5 402v7M599 407.5h7M602.5 404v7M599 413.5h7M602.5 410v7M599 414.5h7M602.5 411v7M599 415.5h7M602.5 412v7M600 392.5h7M603.5 389v7M600 398.5h7M603.5 395v7M600 409.5h7M603.5 406v7M600 413.5h7M603.5 410v7M600 414.5h7M603.5 411v7M600 415.5h7M603.5 412v7M601 406.5h7M604.5 403v7M601 407.5h7M604.5 404v7M601 411.5h7M604.5 408v7M601 412.5h7M604.5 409v7M601 415.5h7M604.5 412v7M601 416.5h7M604.5 413v7M602 409.5h7M605.5 406v7M602 410.5h7M605.5 407v7M602 413.5h7M605.5 410v7M602 416.5h7M605.5 413v7M603 407.5h7M606.5 404v7M603 414.5h7M606.5 411v7M603 416.5h7M606.5 413v7M604 396.5h7M607.5 393v7M604 406.5h7M607.5 403v7M604 408.5h7M607.5 405v7M604 411.5h7M607.5 408v7M604 413.5h7M607.5 410v7M604 416.5h7M607.5 413v7M605 410.5h7M608.5 407v7M605 414.5h7M608.5 411v7M605 415.5h7M608.5 412v7M606 400.5h7M609.5 397v7M606 408.5h7M609.5 405v7M606 410.5h7M609.5 407v7M606 414.5h7M609.5 411v7M606 415.5h7M609.5 412v7M606 416.5h7M609.5 413v7" stroke="#f00" stroke-width="1" fill="none" shape-rendering="crispEdges"/>
<path d="M84.5 20.5H609.5V419.5H84.5Z" fill="none" stroke="#000" stroke-width="1" shape-rendering="crispEdges"/>
<text x="70.5" y="424" text-anchor="end">0</text><text x="70.5" y="367" text-anchor="end">0.2</text><text x="70.5" y="310" text-anchor="end">0.4</text><text x="70.5" y="253" text-anchor="end">0.6</text><text x="70.5" y="196" text-anchor="end">0.8</text><text x="70.5" y="139" text-anchor="end">1</text><text x="70.5" y="82" text-anchor="end">1.2</text><text x="70.5" y="25" text-anchor="end">1.4</text><text x="84.5" y="442.5" text-anchor="middle">0</text><text x="189.5" y="442.5" text-anchor="middle">2</text><text x="294.5" y="442.5" text-anchor="middle">4</text><text x="399.5" y="442.5" text-anchor="middle">6</text><text x="504.5" y="442.5" text-anchor="middle">8</text><text x="609.5" y="442.5" text-anchor="middle">10</text><text x="345" y="471" text-anchor="middle">simulation time (ns)</text><text transform="translate(18,220.7) rotate(-90)" text-anchor="middle" textLength="205" lengthAdjust="spacing">Gaussian height (kjoule/mol)</text>
</svg>
</body></html>
